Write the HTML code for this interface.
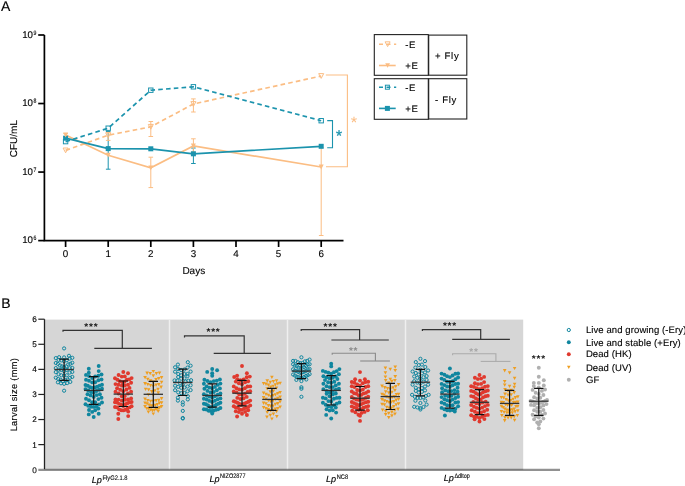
<!DOCTYPE html>
<html><head><meta charset="utf-8"><style>
html,body{margin:0;padding:0;background:#fff;}
svg{display:block;will-change:transform;text-rendering:geometricPrecision;font-family:"Liberation Sans", sans-serif;}
text:not([fill]){stroke:#000;stroke-width:0.12px;}
</style></head><body>
<svg width="685" height="486" viewBox="0 0 685 486" fill="#000">
<rect width="685" height="486" fill="#fff"/>
<text x="1" y="10.8" font-size="14" >A</text>
<path d="M44.4 35.0 V240.6 H343.5" stroke="#000" stroke-width="1.7" fill="none"/>
<path d="M38.2 35.00 H44.4" stroke="#000" stroke-width="1.7"/>
<text x="32.6" y="37.50" font-size="9.7" text-anchor="end" letter-spacing="-0.2">10</text>
<text x="33.4" y="34.70" font-size="6.4" textLength="2.9" lengthAdjust="spacingAndGlyphs" stroke="#000" stroke-width="0.15">9</text>
<path d="M38.2 103.53 H44.4" stroke="#000" stroke-width="1.7"/>
<text x="32.6" y="106.03" font-size="9.7" text-anchor="end" letter-spacing="-0.2">10</text>
<text x="33.4" y="103.23" font-size="6.4" textLength="2.9" lengthAdjust="spacingAndGlyphs" stroke="#000" stroke-width="0.15">8</text>
<path d="M38.2 172.07 H44.4" stroke="#000" stroke-width="1.7"/>
<text x="32.6" y="174.57" font-size="9.7" text-anchor="end" letter-spacing="-0.2">10</text>
<text x="33.4" y="171.77" font-size="6.4" textLength="2.9" lengthAdjust="spacingAndGlyphs" stroke="#000" stroke-width="0.15">7</text>
<path d="M38.2 240.60 H44.4" stroke="#000" stroke-width="1.7"/>
<text x="32.6" y="243.10" font-size="9.7" text-anchor="end" letter-spacing="-0.2">10</text>
<text x="33.4" y="240.30" font-size="6.4" textLength="2.9" lengthAdjust="spacingAndGlyphs" stroke="#000" stroke-width="0.15">6</text>
<path d="M65.60 240.6 V247" stroke="#000" stroke-width="1.7"/>
<text x="65.60" y="257.4" font-size="9.8" text-anchor="middle">0</text>
<path d="M108.20 240.6 V247" stroke="#000" stroke-width="1.7"/>
<text x="108.20" y="257.4" font-size="9.8" text-anchor="middle">1</text>
<path d="M150.80 240.6 V247" stroke="#000" stroke-width="1.7"/>
<text x="150.80" y="257.4" font-size="9.8" text-anchor="middle">2</text>
<path d="M193.40 240.6 V247" stroke="#000" stroke-width="1.7"/>
<text x="193.40" y="257.4" font-size="9.8" text-anchor="middle">3</text>
<path d="M236.00 240.6 V247" stroke="#000" stroke-width="1.7"/>
<text x="236.00" y="257.4" font-size="9.8" text-anchor="middle">4</text>
<path d="M278.60 240.6 V247" stroke="#000" stroke-width="1.7"/>
<text x="278.60" y="257.4" font-size="9.8" text-anchor="middle">5</text>
<path d="M321.20 240.6 V247" stroke="#000" stroke-width="1.7"/>
<text x="321.20" y="257.4" font-size="9.8" text-anchor="middle">6</text>
<text x="193.8" y="274.2" font-size="10" text-anchor="middle">Days</text>
<text transform="translate(16.6,138.6) rotate(-90)" font-size="10" text-anchor="middle">CFU/mL</text>
<path d="M108.20 131.50 V169.20" stroke="#1b93ad" stroke-width="1.0"/><path d="M105.90 131.50 H110.50 M105.90 169.20 H110.50" stroke="#1b93ad" stroke-width="1.0"/>
<path d="M193.40 148.00 V163.50" stroke="#1b93ad" stroke-width="1.0"/><path d="M191.10 148.00 H195.70 M191.10 163.50 H195.70" stroke="#1b93ad" stroke-width="1.0"/>
<path d="M150.80 121.50 V136.50" stroke="#fbbd83" stroke-width="1.0"/><path d="M148.50 121.50 H153.10 M148.50 136.50 H153.10" stroke="#fbbd83" stroke-width="1.0"/>
<path d="M193.40 98.90 V112.00" stroke="#fbbd83" stroke-width="1.0"/><path d="M191.10 98.90 H195.70 M191.10 112.00 H195.70" stroke="#fbbd83" stroke-width="1.0"/>
<path d="M108.20 132.40 V140.40" stroke="#fbbd83" stroke-width="1.0"/><path d="M105.90 132.40 H110.50 M105.90 140.40 H110.50" stroke="#fbbd83" stroke-width="1.0"/>
<path d="M150.80 157.20 V187.60" stroke="#fbbd83" stroke-width="1.0"/><path d="M148.50 157.20 H153.10 M148.50 187.60 H153.10" stroke="#fbbd83" stroke-width="1.0"/>
<path d="M193.40 138.80 V152.00" stroke="#fbbd83" stroke-width="1.0"/><path d="M191.10 138.80 H195.70 M191.10 152.00 H195.70" stroke="#fbbd83" stroke-width="1.0"/>
<path d="M65.60 133.60 V137.00" stroke="#fbbd83" stroke-width="1.0"/><path d="M63.30 133.60 H67.90 M63.30 137.00 H67.90" stroke="#fbbd83" stroke-width="1.0"/>
<path d="M321.20 147.50 V235.50" stroke="#fbbd83" stroke-width="1.0"/><path d="M318.90 147.50 H323.50 M318.90 235.50 H323.50" stroke="#fbbd83" stroke-width="1.0"/>
<polyline points="65.60,135.00 108.20,155.20 150.80,167.80 193.40,146.00 321.20,167.00" fill="none" stroke="#fbbd83" stroke-width="1.7"/>
<polyline points="65.60,150.40 108.20,135.20 150.80,126.80 193.40,104.00 321.20,76.00" fill="none" stroke="#fbbd83" stroke-width="1.7" stroke-dasharray="4.6 3.2"/>
<polyline points="65.60,138.20 108.20,148.60 150.80,148.80 193.40,153.80 321.20,146.30" fill="none" stroke="#1b93ad" stroke-width="1.7"/>
<polyline points="65.60,141.60 108.20,128.20 150.80,90.20 193.40,86.80 321.20,120.70" fill="none" stroke="#1b93ad" stroke-width="1.7" stroke-dasharray="4.6 3.2"/>
<polygon points="63.10,148.03 68.10,148.03 65.60,152.78" fill="none" stroke="#fbbd83" stroke-width="1"/>
<polygon points="105.70,132.82 110.70,132.82 108.20,137.57" fill="none" stroke="#fbbd83" stroke-width="1"/>
<polygon points="148.30,124.42 153.30,124.42 150.80,129.18" fill="none" stroke="#fbbd83" stroke-width="1"/>
<polygon points="190.90,101.62 195.90,101.62 193.40,106.38" fill="none" stroke="#fbbd83" stroke-width="1"/>
<polygon points="318.70,73.62 323.70,73.62 321.20,78.38" fill="none" stroke="#fbbd83" stroke-width="1"/>
<rect x="63.40" y="139.40" width="4.4" height="4.4" fill="none" stroke="#1b93ad" stroke-width="1"/>
<rect x="106.00" y="126.00" width="4.4" height="4.4" fill="none" stroke="#1b93ad" stroke-width="1"/>
<rect x="148.60" y="88.00" width="4.4" height="4.4" fill="none" stroke="#1b93ad" stroke-width="1"/>
<rect x="191.20" y="84.60" width="4.4" height="4.4" fill="none" stroke="#1b93ad" stroke-width="1"/>
<rect x="319.00" y="118.50" width="4.4" height="4.4" fill="none" stroke="#1b93ad" stroke-width="1"/>
<rect x="63.10" y="135.70" width="5.0" height="5.0" fill="#1b93ad"/>
<rect x="105.70" y="146.10" width="5.0" height="5.0" fill="#1b93ad"/>
<rect x="148.30" y="146.30" width="5.0" height="5.0" fill="#1b93ad"/>
<rect x="190.90" y="151.30" width="5.0" height="5.0" fill="#1b93ad"/>
<rect x="318.70" y="143.80" width="5.0" height="5.0" fill="#1b93ad"/>
<polygon points="63.10,132.62 68.10,132.62 65.60,137.38" fill="#fbbd83"/>
<polygon points="105.70,152.82 110.70,152.82 108.20,157.57" fill="#fbbd83"/>
<polygon points="148.30,165.43 153.30,165.43 150.80,170.18" fill="#fbbd83"/>
<polygon points="190.90,143.62 195.90,143.62 193.40,148.38" fill="#fbbd83"/>
<polygon points="318.70,164.62 323.70,164.62 321.20,169.38" fill="#fbbd83"/>
<path d="M325.8 75 H347.4 V166.8 H326" fill="none" stroke="#fbbd83" stroke-width="1.1"/>
<path d="M327.2 120.6 H332.5 V147.8 H327.2" fill="none" stroke="#1b93ad" stroke-width="1.1"/>
<text x="354.0" y="128.1" font-size="16.5" text-anchor="middle" fill="#fbbd83">*</text>
<text x="339.1" y="141.2" font-size="15.5" text-anchor="middle" fill="#1b93ad" stroke="#1b93ad" stroke-width="0.3">*</text>
<g fill="none" stroke="#222" stroke-width="1.1">
<rect x="374.3" y="34.6" width="54" height="40.7"/>
<rect x="428.7" y="35.1" width="38.1" height="40.1"/>
<rect x="374.3" y="78.7" width="54" height="40.6"/>
<rect x="428.7" y="78.7" width="38.1" height="40.3"/>
</g>
<polygon points="385.10,41.83 390.10,41.83 387.60,46.58" fill="none" stroke="#fbbd83" stroke-width="1"/>
<path d="M379 44.3 H396.2" stroke="#fbbd83" stroke-width="1.6" stroke-dasharray="4 3.5"/>
<path d="M379 65.5 H395.7" stroke="#fbbd83" stroke-width="1.6"/>
<polygon points="385.20,63.22 390.00,63.22 387.60,67.78" fill="#fbbd83"/>
<rect x="385.40" y="85.20" width="4.0" height="4.0" fill="none" stroke="#1b93ad" stroke-width="1"/>
<path d="M379 87.2 H396.2" stroke="#1b93ad" stroke-width="1.6" stroke-dasharray="4 3.5"/>
<path d="M379 108.4 H395.7" stroke="#1b93ad" stroke-width="1.6"/>
<rect x="384.90" y="105.90" width="5.0" height="5.0" fill="#1b93ad"/>
<text x="405.2" y="47.9" font-size="9.6" letter-spacing="0.7">-E</text>
<text x="405.2" y="69.2" font-size="9.6" letter-spacing="0.7">+E</text>
<text x="405.2" y="91.0" font-size="9.6" letter-spacing="0.7">-E</text>
<text x="405.2" y="112.1" font-size="9.6" letter-spacing="0.7">+E</text>
<text x="434.9" y="59.0" font-size="9.6" letter-spacing="0.7">+ Fly</text>
<text x="434.9" y="103.4" font-size="9.6" letter-spacing="0.7">- Fly</text>
<text x="1.2" y="308.3" font-size="14">B</text>
<rect x="45" y="319.6" width="478.2" height="150.3" fill="#d6d6d6"/>
<rect x="168.75" y="319.6" width="1.5" height="150" fill="#efefef"/>
<rect x="286.75" y="319.6" width="1.5" height="150" fill="#efefef"/>
<rect x="404.75" y="319.6" width="1.5" height="150" fill="#efefef"/>
<path d="M44.5 319.2 V469.2" stroke="#222" stroke-width="1.3" fill="none"/>
<path d="M38.3 469.9 H560" stroke="#000" stroke-opacity="0.43" stroke-width="2.1"/>
<text x="36.7" y="472.60" font-size="8.2" text-anchor="end">0</text>
<path d="M38.3 444.62 H44.5" stroke="#222" stroke-width="1.2"/>
<text x="36.7" y="447.52" font-size="8.2" text-anchor="end">1</text>
<path d="M38.3 419.53 H44.5" stroke="#222" stroke-width="1.2"/>
<text x="36.7" y="422.43" font-size="8.2" text-anchor="end">2</text>
<path d="M38.3 394.45 H44.5" stroke="#222" stroke-width="1.2"/>
<text x="36.7" y="397.35" font-size="8.2" text-anchor="end">3</text>
<path d="M38.3 369.37 H44.5" stroke="#222" stroke-width="1.2"/>
<text x="36.7" y="372.27" font-size="8.2" text-anchor="end">4</text>
<path d="M38.3 344.28 H44.5" stroke="#222" stroke-width="1.2"/>
<text x="36.7" y="347.18" font-size="8.2" text-anchor="end">5</text>
<path d="M38.3 319.20 H44.5" stroke="#222" stroke-width="1.2"/>
<text x="36.7" y="322.10" font-size="8.2" text-anchor="end">6</text>
<text transform="translate(17.3,394.6) rotate(-90)" font-size="9.3" letter-spacing="0.3" text-anchor="middle">Larval size (mm)</text>
<text x="91.8" y="483.1" font-size="9.1"><tspan font-style="italic">Lp</tspan></text>
<text x="102.5" y="479.5" font-size="6.6" textLength="25" lengthAdjust="spacingAndGlyphs" stroke="#000" stroke-width="0.18">FlyG2.1.8</text>
<text x="209.4" y="481.8" font-size="9.1"><tspan font-style="italic">Lp</tspan></text>
<text x="220.1" y="478.2" font-size="6.6" textLength="25.4" lengthAdjust="spacingAndGlyphs" stroke="#000" stroke-width="0.18">NIZO2877</text>
<text x="326.0" y="482.2" font-size="9.1"><tspan font-style="italic">Lp</tspan></text>
<text x="336.7" y="478.59999999999997" font-size="6.6" textLength="11.4" lengthAdjust="spacingAndGlyphs" stroke="#000" stroke-width="0.18">NC8</text>
<text x="443.8" y="481.3" font-size="9.1"><tspan font-style="italic">Lp</tspan></text>
<text x="454.5" y="477.7" font-size="6.6" textLength="15.3" lengthAdjust="spacingAndGlyphs" stroke="#000" stroke-width="0.18">Δdltop</text>
<circle cx="64.1" cy="348.4" r="1.6" fill="none" stroke="#10869f" stroke-width="1"/><circle cx="64.1" cy="357.4" r="1.6" fill="none" stroke="#10869f" stroke-width="1"/><circle cx="59.1" cy="357.2" r="1.6" fill="none" stroke="#10869f" stroke-width="1"/><circle cx="69.0" cy="355.8" r="1.6" fill="none" stroke="#10869f" stroke-width="1"/><circle cx="64.1" cy="361.3" r="1.6" fill="none" stroke="#10869f" stroke-width="1"/><circle cx="61.3" cy="360.4" r="1.6" fill="none" stroke="#10869f" stroke-width="1"/><circle cx="66.8" cy="360.2" r="1.6" fill="none" stroke="#10869f" stroke-width="1"/><circle cx="58.6" cy="359.9" r="1.6" fill="none" stroke="#10869f" stroke-width="1"/><circle cx="69.6" cy="358.6" r="1.6" fill="none" stroke="#10869f" stroke-width="1"/><circle cx="55.8" cy="358.1" r="1.6" fill="none" stroke="#10869f" stroke-width="1"/><circle cx="72.3" cy="357.8" r="1.6" fill="none" stroke="#10869f" stroke-width="1"/><circle cx="64.1" cy="367.1" r="1.6" fill="none" stroke="#10869f" stroke-width="1"/><circle cx="62.0" cy="366.4" r="1.6" fill="none" stroke="#10869f" stroke-width="1"/><circle cx="66.2" cy="366.4" r="1.6" fill="none" stroke="#10869f" stroke-width="1"/><circle cx="60.0" cy="365.5" r="1.6" fill="none" stroke="#10869f" stroke-width="1"/><circle cx="68.2" cy="364.4" r="1.6" fill="none" stroke="#10869f" stroke-width="1"/><circle cx="57.9" cy="363.9" r="1.6" fill="none" stroke="#10869f" stroke-width="1"/><circle cx="70.3" cy="363.8" r="1.6" fill="none" stroke="#10869f" stroke-width="1"/><circle cx="55.8" cy="363.0" r="1.6" fill="none" stroke="#10869f" stroke-width="1"/><circle cx="72.3" cy="362.7" r="1.6" fill="none" stroke="#10869f" stroke-width="1"/><circle cx="64.1" cy="371.1" r="1.6" fill="none" stroke="#10869f" stroke-width="1"/><circle cx="61.3" cy="369.9" r="1.6" fill="none" stroke="#10869f" stroke-width="1"/><circle cx="66.8" cy="369.9" r="1.6" fill="none" stroke="#10869f" stroke-width="1"/><circle cx="58.6" cy="369.8" r="1.6" fill="none" stroke="#10869f" stroke-width="1"/><circle cx="69.6" cy="368.2" r="1.6" fill="none" stroke="#10869f" stroke-width="1"/><circle cx="55.8" cy="368.1" r="1.6" fill="none" stroke="#10869f" stroke-width="1"/><circle cx="72.3" cy="367.9" r="1.6" fill="none" stroke="#10869f" stroke-width="1"/><circle cx="64.1" cy="375.6" r="1.6" fill="none" stroke="#10869f" stroke-width="1"/><circle cx="61.3" cy="375.3" r="1.6" fill="none" stroke="#10869f" stroke-width="1"/><circle cx="66.8" cy="375.3" r="1.6" fill="none" stroke="#10869f" stroke-width="1"/><circle cx="58.6" cy="374.2" r="1.6" fill="none" stroke="#10869f" stroke-width="1"/><circle cx="69.6" cy="372.6" r="1.6" fill="none" stroke="#10869f" stroke-width="1"/><circle cx="55.8" cy="372.1" r="1.6" fill="none" stroke="#10869f" stroke-width="1"/><circle cx="72.3" cy="371.9" r="1.6" fill="none" stroke="#10869f" stroke-width="1"/><circle cx="62.9" cy="381.3" r="1.6" fill="none" stroke="#10869f" stroke-width="1"/><circle cx="65.3" cy="380.0" r="1.6" fill="none" stroke="#10869f" stroke-width="1"/><circle cx="60.6" cy="379.8" r="1.6" fill="none" stroke="#10869f" stroke-width="1"/><circle cx="67.6" cy="379.7" r="1.6" fill="none" stroke="#10869f" stroke-width="1"/><circle cx="58.2" cy="378.9" r="1.6" fill="none" stroke="#10869f" stroke-width="1"/><circle cx="70.0" cy="377.8" r="1.6" fill="none" stroke="#10869f" stroke-width="1"/><circle cx="55.8" cy="377.7" r="1.6" fill="none" stroke="#10869f" stroke-width="1"/><circle cx="72.3" cy="376.9" r="1.6" fill="none" stroke="#10869f" stroke-width="1"/><circle cx="64.1" cy="383.8" r="1.6" fill="none" stroke="#10869f" stroke-width="1"/><circle cx="61.0" cy="383.3" r="1.6" fill="none" stroke="#10869f" stroke-width="1"/><circle cx="67.2" cy="383.1" r="1.6" fill="none" stroke="#10869f" stroke-width="1"/><circle cx="57.9" cy="382.3" r="1.6" fill="none" stroke="#10869f" stroke-width="1"/><circle cx="70.3" cy="381.9" r="1.6" fill="none" stroke="#10869f" stroke-width="1"/><circle cx="64.1" cy="390.7" r="1.6" fill="none" stroke="#10869f" stroke-width="1"/><circle cx="88.8" cy="368.7" r="1.95" fill="#10869f"/><circle cx="98.7" cy="366.0" r="1.95" fill="#10869f"/><circle cx="88.8" cy="372.7" r="1.95" fill="#10869f"/><circle cx="98.7" cy="371.1" r="1.95" fill="#10869f"/><circle cx="92.2" cy="378.0" r="1.95" fill="#10869f"/><circle cx="95.2" cy="376.5" r="1.95" fill="#10869f"/><circle cx="89.0" cy="376.1" r="1.95" fill="#10869f"/><circle cx="98.4" cy="375.8" r="1.95" fill="#10869f"/><circle cx="86.0" cy="374.9" r="1.95" fill="#10869f"/><circle cx="101.5" cy="374.5" r="1.95" fill="#10869f"/><circle cx="92.2" cy="382.4" r="1.95" fill="#10869f"/><circle cx="95.2" cy="382.2" r="1.95" fill="#10869f"/><circle cx="89.0" cy="380.8" r="1.95" fill="#10869f"/><circle cx="98.4" cy="380.2" r="1.95" fill="#10869f"/><circle cx="86.0" cy="379.7" r="1.95" fill="#10869f"/><circle cx="101.5" cy="379.5" r="1.95" fill="#10869f"/><circle cx="92.5" cy="387.9" r="1.95" fill="#10869f"/><circle cx="94.9" cy="387.4" r="1.95" fill="#10869f"/><circle cx="90.2" cy="387.3" r="1.95" fill="#10869f"/><circle cx="97.2" cy="386.7" r="1.95" fill="#10869f"/><circle cx="87.8" cy="385.7" r="1.95" fill="#10869f"/><circle cx="99.6" cy="385.6" r="1.95" fill="#10869f"/><circle cx="85.5" cy="385.0" r="1.95" fill="#10869f"/><circle cx="102.0" cy="384.8" r="1.95" fill="#10869f"/><circle cx="93.7" cy="392.7" r="1.95" fill="#10869f"/><circle cx="91.0" cy="392.1" r="1.95" fill="#10869f"/><circle cx="96.5" cy="391.0" r="1.95" fill="#10869f"/><circle cx="88.2" cy="390.5" r="1.95" fill="#10869f"/><circle cx="99.2" cy="389.7" r="1.95" fill="#10869f"/><circle cx="85.5" cy="389.1" r="1.95" fill="#10869f"/><circle cx="102.0" cy="388.7" r="1.95" fill="#10869f"/><circle cx="93.7" cy="396.9" r="1.95" fill="#10869f"/><circle cx="90.6" cy="395.4" r="1.95" fill="#10869f"/><circle cx="96.8" cy="395.1" r="1.95" fill="#10869f"/><circle cx="87.5" cy="394.3" r="1.95" fill="#10869f"/><circle cx="99.9" cy="394.2" r="1.95" fill="#10869f"/><circle cx="92.2" cy="402.2" r="1.95" fill="#10869f"/><circle cx="95.2" cy="402.2" r="1.95" fill="#10869f"/><circle cx="89.0" cy="400.3" r="1.95" fill="#10869f"/><circle cx="98.4" cy="399.1" r="1.95" fill="#10869f"/><circle cx="86.0" cy="398.7" r="1.95" fill="#10869f"/><circle cx="101.5" cy="397.7" r="1.95" fill="#10869f"/><circle cx="93.7" cy="406.9" r="1.95" fill="#10869f"/><circle cx="91.0" cy="406.8" r="1.95" fill="#10869f"/><circle cx="96.5" cy="406.6" r="1.95" fill="#10869f"/><circle cx="88.2" cy="405.7" r="1.95" fill="#10869f"/><circle cx="99.2" cy="404.4" r="1.95" fill="#10869f"/><circle cx="85.5" cy="404.2" r="1.95" fill="#10869f"/><circle cx="102.0" cy="402.5" r="1.95" fill="#10869f"/><circle cx="92.2" cy="411.9" r="1.95" fill="#10869f"/><circle cx="95.2" cy="410.3" r="1.95" fill="#10869f"/><circle cx="89.0" cy="410.0" r="1.95" fill="#10869f"/><circle cx="98.4" cy="408.6" r="1.95" fill="#10869f"/><circle cx="88.8" cy="414.4" r="1.95" fill="#10869f"/><circle cx="98.7" cy="413.8" r="1.95" fill="#10869f"/><circle cx="93.7" cy="417.0" r="1.95" fill="#10869f"/><circle cx="123.3" cy="372.0" r="1.95" fill="#e0392e"/><circle cx="121.8" cy="376.6" r="1.95" fill="#e0392e"/><circle cx="124.8" cy="376.4" r="1.95" fill="#e0392e"/><circle cx="118.6" cy="375.0" r="1.95" fill="#e0392e"/><circle cx="128.0" cy="373.3" r="1.95" fill="#e0392e"/><circle cx="122.1" cy="382.1" r="1.95" fill="#e0392e"/><circle cx="124.5" cy="381.8" r="1.95" fill="#e0392e"/><circle cx="119.8" cy="381.2" r="1.95" fill="#e0392e"/><circle cx="126.8" cy="379.8" r="1.95" fill="#e0392e"/><circle cx="117.4" cy="379.8" r="1.95" fill="#e0392e"/><circle cx="129.2" cy="379.4" r="1.95" fill="#e0392e"/><circle cx="115.0" cy="378.2" r="1.95" fill="#e0392e"/><circle cx="131.6" cy="378.1" r="1.95" fill="#e0392e"/><circle cx="121.8" cy="385.6" r="1.95" fill="#e0392e"/><circle cx="124.8" cy="385.5" r="1.95" fill="#e0392e"/><circle cx="118.6" cy="384.8" r="1.95" fill="#e0392e"/><circle cx="128.0" cy="384.8" r="1.95" fill="#e0392e"/><circle cx="115.5" cy="384.1" r="1.95" fill="#e0392e"/><circle cx="131.1" cy="382.8" r="1.95" fill="#e0392e"/><circle cx="123.3" cy="391.3" r="1.95" fill="#e0392e"/><circle cx="120.2" cy="389.7" r="1.95" fill="#e0392e"/><circle cx="126.4" cy="389.5" r="1.95" fill="#e0392e"/><circle cx="117.1" cy="388.3" r="1.95" fill="#e0392e"/><circle cx="129.5" cy="387.9" r="1.95" fill="#e0392e"/><circle cx="121.8" cy="396.3" r="1.95" fill="#e0392e"/><circle cx="124.8" cy="396.1" r="1.95" fill="#e0392e"/><circle cx="118.6" cy="393.5" r="1.95" fill="#e0392e"/><circle cx="128.0" cy="393.5" r="1.95" fill="#e0392e"/><circle cx="115.5" cy="391.8" r="1.95" fill="#e0392e"/><circle cx="131.1" cy="391.8" r="1.95" fill="#e0392e"/><circle cx="121.8" cy="400.6" r="1.95" fill="#e0392e"/><circle cx="124.8" cy="399.8" r="1.95" fill="#e0392e"/><circle cx="118.6" cy="399.6" r="1.95" fill="#e0392e"/><circle cx="128.0" cy="399.4" r="1.95" fill="#e0392e"/><circle cx="115.5" cy="399.4" r="1.95" fill="#e0392e"/><circle cx="131.1" cy="398.4" r="1.95" fill="#e0392e"/><circle cx="123.3" cy="406.1" r="1.95" fill="#e0392e"/><circle cx="121.2" cy="404.7" r="1.95" fill="#e0392e"/><circle cx="125.4" cy="404.3" r="1.95" fill="#e0392e"/><circle cx="119.2" cy="403.9" r="1.95" fill="#e0392e"/><circle cx="127.4" cy="403.2" r="1.95" fill="#e0392e"/><circle cx="117.1" cy="402.5" r="1.95" fill="#e0392e"/><circle cx="129.5" cy="402.3" r="1.95" fill="#e0392e"/><circle cx="115.0" cy="402.2" r="1.95" fill="#e0392e"/><circle cx="131.6" cy="402.0" r="1.95" fill="#e0392e"/><circle cx="123.3" cy="410.4" r="1.95" fill="#e0392e"/><circle cx="121.2" cy="410.3" r="1.95" fill="#e0392e"/><circle cx="125.4" cy="409.7" r="1.95" fill="#e0392e"/><circle cx="119.2" cy="409.4" r="1.95" fill="#e0392e"/><circle cx="127.4" cy="408.6" r="1.95" fill="#e0392e"/><circle cx="117.1" cy="407.4" r="1.95" fill="#e0392e"/><circle cx="129.5" cy="407.4" r="1.95" fill="#e0392e"/><circle cx="115.0" cy="407.0" r="1.95" fill="#e0392e"/><circle cx="131.6" cy="406.3" r="1.95" fill="#e0392e"/><circle cx="118.3" cy="413.7" r="1.95" fill="#e0392e"/><circle cx="128.2" cy="411.6" r="1.95" fill="#e0392e"/><circle cx="118.3" cy="419.0" r="1.95" fill="#e0392e"/><circle cx="128.2" cy="416.1" r="1.95" fill="#e0392e"/><polygon points="151.5,369.9 155.1,369.9 153.3,373.1" fill="#ee9e21"/><polygon points="151.5,374.2 155.1,374.2 153.3,377.5" fill="#ee9e21"/><polygon points="148.4,371.9 152.0,371.9 150.2,375.2" fill="#ee9e21"/><polygon points="154.6,371.9 158.2,371.9 156.4,375.2" fill="#ee9e21"/><polygon points="145.3,371.6 148.9,371.6 147.1,374.9" fill="#ee9e21"/><polygon points="157.7,371.4 161.3,371.4 159.5,374.7" fill="#ee9e21"/><polygon points="151.5,380.6 155.1,380.6 153.3,383.9" fill="#ee9e21"/><polygon points="148.8,379.3 152.4,379.3 150.6,382.6" fill="#ee9e21"/><polygon points="154.2,378.1 157.9,378.1 156.1,381.4" fill="#ee9e21"/><polygon points="146.0,377.8 149.6,377.8 147.8,381.1" fill="#ee9e21"/><polygon points="157.0,377.0 160.6,377.0 158.8,380.3" fill="#ee9e21"/><polygon points="143.2,376.0 146.9,376.0 145.1,379.3" fill="#ee9e21"/><polygon points="159.8,375.9 163.4,375.9 161.6,379.2" fill="#ee9e21"/><polygon points="151.5,384.7 155.1,384.7 153.3,388.0" fill="#ee9e21"/><polygon points="148.8,384.0 152.4,384.0 150.6,387.3" fill="#ee9e21"/><polygon points="154.2,383.4 157.9,383.4 156.1,386.7" fill="#ee9e21"/><polygon points="146.0,383.0 149.6,383.0 147.8,386.3" fill="#ee9e21"/><polygon points="157.0,383.0 160.6,383.0 158.8,386.3" fill="#ee9e21"/><polygon points="143.2,382.1 146.9,382.1 145.1,385.4" fill="#ee9e21"/><polygon points="159.8,380.8 163.4,380.8 161.6,384.1" fill="#ee9e21"/><polygon points="149.9,390.1 153.6,390.1 151.8,393.4" fill="#ee9e21"/><polygon points="153.1,389.3 156.7,389.3 154.9,392.6" fill="#ee9e21"/><polygon points="146.8,388.2 150.5,388.2 148.7,391.5" fill="#ee9e21"/><polygon points="156.2,387.8 159.8,387.8 158.0,391.1" fill="#ee9e21"/><polygon points="143.8,387.7 147.4,387.7 145.6,391.0" fill="#ee9e21"/><polygon points="159.2,385.6 162.9,385.6 161.1,388.9" fill="#ee9e21"/><polygon points="151.5,393.8 155.1,393.8 153.3,397.1" fill="#ee9e21"/><polygon points="146.6,393.3 150.2,393.3 148.4,396.6" fill="#ee9e21"/><polygon points="156.4,391.2 160.1,391.2 158.2,394.5" fill="#ee9e21"/><polygon points="151.5,399.8 155.1,399.8 153.3,403.1" fill="#ee9e21"/><polygon points="148.8,399.7 152.4,399.7 150.6,403.0" fill="#ee9e21"/><polygon points="154.2,398.9 157.9,398.9 156.1,402.2" fill="#ee9e21"/><polygon points="146.0,398.9 149.6,398.9 147.8,402.2" fill="#ee9e21"/><polygon points="157.0,398.8 160.6,398.8 158.8,402.1" fill="#ee9e21"/><polygon points="143.2,397.6 146.9,397.6 145.1,400.9" fill="#ee9e21"/><polygon points="159.8,397.0 163.4,397.0 161.6,400.3" fill="#ee9e21"/><polygon points="151.5,404.5 155.1,404.5 153.3,407.8" fill="#ee9e21"/><polygon points="149.4,404.3 153.0,404.3 151.2,407.6" fill="#ee9e21"/><polygon points="153.6,403.8 157.2,403.8 155.4,407.1" fill="#ee9e21"/><polygon points="147.4,403.6 151.0,403.6 149.2,406.9" fill="#ee9e21"/><polygon points="155.6,402.9 159.2,402.9 157.4,406.2" fill="#ee9e21"/><polygon points="145.3,402.2 148.9,402.2 147.1,405.5" fill="#ee9e21"/><polygon points="157.7,401.5 161.3,401.5 159.5,404.8" fill="#ee9e21"/><polygon points="143.2,401.4 146.9,401.4 145.1,404.7" fill="#ee9e21"/><polygon points="159.8,401.2 163.4,401.2 161.6,404.5" fill="#ee9e21"/><polygon points="150.6,409.1 154.2,409.1 152.4,412.4" fill="#ee9e21"/><polygon points="152.4,408.8 156.0,408.8 154.2,412.1" fill="#ee9e21"/><polygon points="148.8,408.2 152.4,408.2 150.6,411.5" fill="#ee9e21"/><polygon points="154.2,407.8 157.9,407.8 156.1,411.1" fill="#ee9e21"/><polygon points="146.9,407.2 150.5,407.2 148.7,410.5" fill="#ee9e21"/><polygon points="156.1,407.1 159.7,407.1 157.9,410.4" fill="#ee9e21"/><polygon points="145.1,407.0 148.7,407.0 146.9,410.3" fill="#ee9e21"/><polygon points="157.9,406.1 161.5,406.1 159.7,409.4" fill="#ee9e21"/><polygon points="143.2,405.1 146.9,405.1 145.1,408.4" fill="#ee9e21"/><polygon points="159.8,405.0 163.4,405.0 161.6,408.3" fill="#ee9e21"/><polygon points="151.5,412.4 155.1,412.4 153.3,415.6" fill="#ee9e21"/><polygon points="146.6,410.5 150.2,410.5 148.4,413.8" fill="#ee9e21"/><polygon points="156.4,409.7 160.1,409.7 158.2,413.0" fill="#ee9e21"/><circle cx="177.9" cy="364.6" r="1.6" fill="none" stroke="#10869f" stroke-width="1"/><circle cx="187.8" cy="362.2" r="1.6" fill="none" stroke="#10869f" stroke-width="1"/><circle cx="181.2" cy="370.0" r="1.6" fill="none" stroke="#10869f" stroke-width="1"/><circle cx="184.4" cy="369.5" r="1.6" fill="none" stroke="#10869f" stroke-width="1"/><circle cx="178.2" cy="369.0" r="1.6" fill="none" stroke="#10869f" stroke-width="1"/><circle cx="187.5" cy="367.6" r="1.6" fill="none" stroke="#10869f" stroke-width="1"/><circle cx="175.1" cy="367.3" r="1.6" fill="none" stroke="#10869f" stroke-width="1"/><circle cx="190.6" cy="365.7" r="1.6" fill="none" stroke="#10869f" stroke-width="1"/><circle cx="181.2" cy="375.3" r="1.6" fill="none" stroke="#10869f" stroke-width="1"/><circle cx="184.4" cy="374.0" r="1.6" fill="none" stroke="#10869f" stroke-width="1"/><circle cx="178.2" cy="374.0" r="1.6" fill="none" stroke="#10869f" stroke-width="1"/><circle cx="187.5" cy="374.0" r="1.6" fill="none" stroke="#10869f" stroke-width="1"/><circle cx="175.1" cy="371.7" r="1.6" fill="none" stroke="#10869f" stroke-width="1"/><circle cx="190.6" cy="371.6" r="1.6" fill="none" stroke="#10869f" stroke-width="1"/><circle cx="181.2" cy="378.7" r="1.6" fill="none" stroke="#10869f" stroke-width="1"/><circle cx="184.4" cy="378.4" r="1.6" fill="none" stroke="#10869f" stroke-width="1"/><circle cx="178.2" cy="377.0" r="1.6" fill="none" stroke="#10869f" stroke-width="1"/><circle cx="187.5" cy="376.1" r="1.6" fill="none" stroke="#10869f" stroke-width="1"/><circle cx="182.8" cy="384.5" r="1.6" fill="none" stroke="#10869f" stroke-width="1"/><circle cx="180.1" cy="383.4" r="1.6" fill="none" stroke="#10869f" stroke-width="1"/><circle cx="185.6" cy="381.5" r="1.6" fill="none" stroke="#10869f" stroke-width="1"/><circle cx="177.3" cy="380.7" r="1.6" fill="none" stroke="#10869f" stroke-width="1"/><circle cx="188.3" cy="380.7" r="1.6" fill="none" stroke="#10869f" stroke-width="1"/><circle cx="174.6" cy="380.4" r="1.6" fill="none" stroke="#10869f" stroke-width="1"/><circle cx="191.1" cy="380.2" r="1.6" fill="none" stroke="#10869f" stroke-width="1"/><circle cx="181.2" cy="387.8" r="1.6" fill="none" stroke="#10869f" stroke-width="1"/><circle cx="184.4" cy="387.5" r="1.6" fill="none" stroke="#10869f" stroke-width="1"/><circle cx="178.2" cy="386.8" r="1.6" fill="none" stroke="#10869f" stroke-width="1"/><circle cx="187.5" cy="386.5" r="1.6" fill="none" stroke="#10869f" stroke-width="1"/><circle cx="175.1" cy="385.7" r="1.6" fill="none" stroke="#10869f" stroke-width="1"/><circle cx="190.6" cy="385.3" r="1.6" fill="none" stroke="#10869f" stroke-width="1"/><circle cx="181.2" cy="393.2" r="1.6" fill="none" stroke="#10869f" stroke-width="1"/><circle cx="184.4" cy="393.0" r="1.6" fill="none" stroke="#10869f" stroke-width="1"/><circle cx="178.2" cy="392.4" r="1.6" fill="none" stroke="#10869f" stroke-width="1"/><circle cx="187.5" cy="391.3" r="1.6" fill="none" stroke="#10869f" stroke-width="1"/><circle cx="175.1" cy="390.2" r="1.6" fill="none" stroke="#10869f" stroke-width="1"/><circle cx="190.6" cy="390.1" r="1.6" fill="none" stroke="#10869f" stroke-width="1"/><circle cx="177.9" cy="397.7" r="1.6" fill="none" stroke="#10869f" stroke-width="1"/><circle cx="187.8" cy="396.2" r="1.6" fill="none" stroke="#10869f" stroke-width="1"/><circle cx="182.8" cy="402.3" r="1.6" fill="none" stroke="#10869f" stroke-width="1"/><circle cx="177.9" cy="400.6" r="1.6" fill="none" stroke="#10869f" stroke-width="1"/><circle cx="187.8" cy="399.4" r="1.6" fill="none" stroke="#10869f" stroke-width="1"/><circle cx="182.8" cy="404.7" r="1.6" fill="none" stroke="#10869f" stroke-width="1"/><circle cx="182.8" cy="410.9" r="1.6" fill="none" stroke="#10869f" stroke-width="1"/><circle cx="182.8" cy="418.0" r="1.6" fill="none" stroke="#10869f" stroke-width="1"/><circle cx="182.8" cy="418.5" r="1.6" fill="none" stroke="#10869f" stroke-width="1"/><circle cx="212.2" cy="369.0" r="1.95" fill="#10869f"/><circle cx="212.2" cy="373.2" r="1.95" fill="#10869f"/><circle cx="207.2" cy="371.9" r="1.95" fill="#10869f"/><circle cx="217.1" cy="370.2" r="1.95" fill="#10869f"/><circle cx="212.2" cy="375.7" r="1.95" fill="#10869f"/><circle cx="210.6" cy="382.3" r="1.95" fill="#10869f"/><circle cx="213.8" cy="381.1" r="1.95" fill="#10869f"/><circle cx="207.5" cy="381.0" r="1.95" fill="#10869f"/><circle cx="216.8" cy="380.8" r="1.95" fill="#10869f"/><circle cx="204.4" cy="379.7" r="1.95" fill="#10869f"/><circle cx="219.9" cy="379.5" r="1.95" fill="#10869f"/><circle cx="212.2" cy="388.2" r="1.95" fill="#10869f"/><circle cx="209.4" cy="387.6" r="1.95" fill="#10869f"/><circle cx="214.9" cy="386.9" r="1.95" fill="#10869f"/><circle cx="206.7" cy="386.4" r="1.95" fill="#10869f"/><circle cx="217.7" cy="384.9" r="1.95" fill="#10869f"/><circle cx="203.9" cy="383.7" r="1.95" fill="#10869f"/><circle cx="220.4" cy="383.6" r="1.95" fill="#10869f"/><circle cx="210.6" cy="392.5" r="1.95" fill="#10869f"/><circle cx="213.8" cy="392.0" r="1.95" fill="#10869f"/><circle cx="207.5" cy="390.9" r="1.95" fill="#10869f"/><circle cx="216.8" cy="390.2" r="1.95" fill="#10869f"/><circle cx="204.4" cy="388.7" r="1.95" fill="#10869f"/><circle cx="219.9" cy="388.4" r="1.95" fill="#10869f"/><circle cx="212.2" cy="397.4" r="1.95" fill="#10869f"/><circle cx="209.4" cy="396.5" r="1.95" fill="#10869f"/><circle cx="214.9" cy="396.2" r="1.95" fill="#10869f"/><circle cx="206.7" cy="395.5" r="1.95" fill="#10869f"/><circle cx="217.7" cy="394.7" r="1.95" fill="#10869f"/><circle cx="203.9" cy="394.3" r="1.95" fill="#10869f"/><circle cx="220.4" cy="393.4" r="1.95" fill="#10869f"/><circle cx="212.2" cy="402.0" r="1.95" fill="#10869f"/><circle cx="209.4" cy="400.9" r="1.95" fill="#10869f"/><circle cx="214.9" cy="400.8" r="1.95" fill="#10869f"/><circle cx="206.7" cy="399.5" r="1.95" fill="#10869f"/><circle cx="217.7" cy="399.2" r="1.95" fill="#10869f"/><circle cx="203.9" cy="398.8" r="1.95" fill="#10869f"/><circle cx="220.4" cy="398.4" r="1.95" fill="#10869f"/><circle cx="212.2" cy="407.1" r="1.95" fill="#10869f"/><circle cx="210.1" cy="407.0" r="1.95" fill="#10869f"/><circle cx="214.3" cy="405.9" r="1.95" fill="#10869f"/><circle cx="208.1" cy="405.4" r="1.95" fill="#10869f"/><circle cx="216.3" cy="404.7" r="1.95" fill="#10869f"/><circle cx="206.0" cy="404.3" r="1.95" fill="#10869f"/><circle cx="218.4" cy="403.8" r="1.95" fill="#10869f"/><circle cx="203.9" cy="403.7" r="1.95" fill="#10869f"/><circle cx="220.4" cy="402.8" r="1.95" fill="#10869f"/><circle cx="211.0" cy="411.0" r="1.95" fill="#10869f"/><circle cx="213.4" cy="410.8" r="1.95" fill="#10869f"/><circle cx="208.7" cy="410.7" r="1.95" fill="#10869f"/><circle cx="215.7" cy="409.9" r="1.95" fill="#10869f"/><circle cx="206.3" cy="409.5" r="1.95" fill="#10869f"/><circle cx="218.1" cy="409.2" r="1.95" fill="#10869f"/><circle cx="203.9" cy="409.2" r="1.95" fill="#10869f"/><circle cx="220.4" cy="408.0" r="1.95" fill="#10869f"/><circle cx="212.2" cy="413.5" r="1.95" fill="#10869f"/><circle cx="242.0" cy="366.0" r="1.95" fill="#e0392e"/><circle cx="237.1" cy="375.6" r="1.95" fill="#e0392e"/><circle cx="246.9" cy="373.3" r="1.95" fill="#e0392e"/><circle cx="240.4" cy="380.2" r="1.95" fill="#e0392e"/><circle cx="243.6" cy="379.5" r="1.95" fill="#e0392e"/><circle cx="237.3" cy="379.2" r="1.95" fill="#e0392e"/><circle cx="246.7" cy="377.3" r="1.95" fill="#e0392e"/><circle cx="234.2" cy="377.0" r="1.95" fill="#e0392e"/><circle cx="249.8" cy="376.6" r="1.95" fill="#e0392e"/><circle cx="242.0" cy="384.3" r="1.95" fill="#e0392e"/><circle cx="238.9" cy="383.3" r="1.95" fill="#e0392e"/><circle cx="245.1" cy="382.2" r="1.95" fill="#e0392e"/><circle cx="235.8" cy="381.6" r="1.95" fill="#e0392e"/><circle cx="248.2" cy="381.3" r="1.95" fill="#e0392e"/><circle cx="242.0" cy="389.8" r="1.95" fill="#e0392e"/><circle cx="239.2" cy="389.4" r="1.95" fill="#e0392e"/><circle cx="244.8" cy="388.3" r="1.95" fill="#e0392e"/><circle cx="236.5" cy="388.3" r="1.95" fill="#e0392e"/><circle cx="247.5" cy="386.5" r="1.95" fill="#e0392e"/><circle cx="233.8" cy="386.4" r="1.95" fill="#e0392e"/><circle cx="250.2" cy="386.4" r="1.95" fill="#e0392e"/><circle cx="242.0" cy="394.4" r="1.95" fill="#e0392e"/><circle cx="239.2" cy="394.4" r="1.95" fill="#e0392e"/><circle cx="244.8" cy="393.8" r="1.95" fill="#e0392e"/><circle cx="236.5" cy="392.4" r="1.95" fill="#e0392e"/><circle cx="247.5" cy="391.9" r="1.95" fill="#e0392e"/><circle cx="233.8" cy="391.5" r="1.95" fill="#e0392e"/><circle cx="250.2" cy="391.2" r="1.95" fill="#e0392e"/><circle cx="240.4" cy="399.0" r="1.95" fill="#e0392e"/><circle cx="243.6" cy="398.2" r="1.95" fill="#e0392e"/><circle cx="237.3" cy="397.9" r="1.95" fill="#e0392e"/><circle cx="246.7" cy="396.9" r="1.95" fill="#e0392e"/><circle cx="241.1" cy="404.9" r="1.95" fill="#e0392e"/><circle cx="242.9" cy="404.3" r="1.95" fill="#e0392e"/><circle cx="239.2" cy="403.6" r="1.95" fill="#e0392e"/><circle cx="244.8" cy="403.4" r="1.95" fill="#e0392e"/><circle cx="237.4" cy="402.8" r="1.95" fill="#e0392e"/><circle cx="246.6" cy="402.6" r="1.95" fill="#e0392e"/><circle cx="235.6" cy="401.9" r="1.95" fill="#e0392e"/><circle cx="248.4" cy="401.7" r="1.95" fill="#e0392e"/><circle cx="233.8" cy="401.2" r="1.95" fill="#e0392e"/><circle cx="250.2" cy="400.6" r="1.95" fill="#e0392e"/><circle cx="242.0" cy="409.9" r="1.95" fill="#e0392e"/><circle cx="239.9" cy="409.6" r="1.95" fill="#e0392e"/><circle cx="244.1" cy="408.5" r="1.95" fill="#e0392e"/><circle cx="237.9" cy="407.7" r="1.95" fill="#e0392e"/><circle cx="246.1" cy="407.7" r="1.95" fill="#e0392e"/><circle cx="235.8" cy="407.4" r="1.95" fill="#e0392e"/><circle cx="248.2" cy="406.9" r="1.95" fill="#e0392e"/><circle cx="233.8" cy="406.2" r="1.95" fill="#e0392e"/><circle cx="250.2" cy="405.4" r="1.95" fill="#e0392e"/><circle cx="242.0" cy="413.7" r="1.95" fill="#e0392e"/><circle cx="238.9" cy="412.1" r="1.95" fill="#e0392e"/><circle cx="245.1" cy="411.9" r="1.95" fill="#e0392e"/><circle cx="235.8" cy="411.3" r="1.95" fill="#e0392e"/><circle cx="248.2" cy="410.2" r="1.95" fill="#e0392e"/><circle cx="237.1" cy="416.5" r="1.95" fill="#e0392e"/><circle cx="246.9" cy="415.0" r="1.95" fill="#e0392e"/><polygon points="270.1,375.8 273.7,375.8 271.9,379.0" fill="#ee9e21"/><polygon points="268.5,380.7 272.1,380.7 270.3,384.0" fill="#ee9e21"/><polygon points="271.6,380.0 275.2,380.0 273.4,383.3" fill="#ee9e21"/><polygon points="265.4,379.2 269.1,379.2 267.2,382.5" fill="#ee9e21"/><polygon points="274.7,379.2 278.3,379.2 276.5,382.5" fill="#ee9e21"/><polygon points="268.9,385.6 272.5,385.6 270.7,388.9" fill="#ee9e21"/><polygon points="271.3,384.8 274.9,384.8 273.1,388.1" fill="#ee9e21"/><polygon points="266.6,383.6 270.2,383.6 268.4,386.9" fill="#ee9e21"/><polygon points="273.6,383.2 277.2,383.2 275.4,386.5" fill="#ee9e21"/><polygon points="264.2,382.6 267.8,382.6 266.0,385.9" fill="#ee9e21"/><polygon points="276.0,382.3 279.6,382.3 277.8,385.6" fill="#ee9e21"/><polygon points="261.8,382.0 265.4,382.0 263.6,385.3" fill="#ee9e21"/><polygon points="278.3,381.7 281.9,381.7 280.1,385.0" fill="#ee9e21"/><polygon points="268.5,390.3 272.1,390.3 270.3,393.6" fill="#ee9e21"/><polygon points="271.6,389.4 275.2,389.4 273.4,392.7" fill="#ee9e21"/><polygon points="265.4,387.3 269.1,387.3 267.2,390.6" fill="#ee9e21"/><polygon points="274.7,386.5 278.3,386.5 276.5,389.8" fill="#ee9e21"/><polygon points="268.9,395.0 272.5,395.0 270.7,398.3" fill="#ee9e21"/><polygon points="271.3,393.9 274.9,393.9 273.1,397.2" fill="#ee9e21"/><polygon points="266.6,393.8 270.2,393.8 268.4,397.1" fill="#ee9e21"/><polygon points="273.6,393.2 277.2,393.2 275.4,396.5" fill="#ee9e21"/><polygon points="264.2,392.8 267.8,392.8 266.0,396.1" fill="#ee9e21"/><polygon points="276.0,392.0 279.6,392.0 277.8,395.3" fill="#ee9e21"/><polygon points="261.8,391.4 265.4,391.4 263.6,394.7" fill="#ee9e21"/><polygon points="278.3,391.0 281.9,391.0 280.1,394.3" fill="#ee9e21"/><polygon points="268.9,399.9 272.5,399.9 270.7,403.2" fill="#ee9e21"/><polygon points="271.3,399.1 274.9,399.1 273.1,402.4" fill="#ee9e21"/><polygon points="266.6,399.0 270.2,399.0 268.4,402.3" fill="#ee9e21"/><polygon points="273.6,397.8 277.2,397.8 275.4,401.1" fill="#ee9e21"/><polygon points="264.2,397.6 267.8,397.6 266.0,400.9" fill="#ee9e21"/><polygon points="276.0,396.8 279.6,396.8 277.8,400.1" fill="#ee9e21"/><polygon points="261.8,396.1 265.4,396.1 263.6,399.4" fill="#ee9e21"/><polygon points="278.3,395.6 281.9,395.6 280.1,398.9" fill="#ee9e21"/><polygon points="268.9,404.6 272.5,404.6 270.7,407.9" fill="#ee9e21"/><polygon points="271.3,404.5 274.9,404.5 273.1,407.8" fill="#ee9e21"/><polygon points="266.6,404.1 270.2,404.1 268.4,407.4" fill="#ee9e21"/><polygon points="273.6,402.7 277.2,402.7 275.4,406.0" fill="#ee9e21"/><polygon points="264.2,402.3 267.8,402.3 266.0,405.6" fill="#ee9e21"/><polygon points="276.0,402.1 279.6,402.1 277.8,405.4" fill="#ee9e21"/><polygon points="261.8,401.6 265.4,401.6 263.6,404.9" fill="#ee9e21"/><polygon points="278.3,400.3 281.9,400.3 280.1,403.6" fill="#ee9e21"/><polygon points="268.9,409.3 272.5,409.3 270.7,412.6" fill="#ee9e21"/><polygon points="271.3,408.8 274.9,408.8 273.1,412.1" fill="#ee9e21"/><polygon points="266.6,407.9 270.2,407.9 268.4,411.2" fill="#ee9e21"/><polygon points="273.6,407.4 277.2,407.4 275.4,410.7" fill="#ee9e21"/><polygon points="264.2,407.1 267.8,407.1 266.0,410.4" fill="#ee9e21"/><polygon points="276.0,407.0 279.6,407.0 277.8,410.3" fill="#ee9e21"/><polygon points="261.8,405.9 265.4,405.9 263.6,409.2" fill="#ee9e21"/><polygon points="278.3,405.4 281.9,405.4 280.1,408.7" fill="#ee9e21"/><polygon points="268.5,413.8 272.1,413.8 270.3,417.1" fill="#ee9e21"/><polygon points="271.6,412.4 275.2,412.4 273.4,415.7" fill="#ee9e21"/><polygon points="265.4,410.7 269.1,410.7 267.2,414.0" fill="#ee9e21"/><polygon points="274.7,410.0 278.3,410.0 276.5,413.3" fill="#ee9e21"/><polygon points="270.1,417.4 273.7,417.4 271.9,420.6" fill="#ee9e21"/><polygon points="265.1,415.4 268.8,415.4 266.9,418.7" fill="#ee9e21"/><polygon points="275.0,414.9 278.6,414.9 276.8,418.2" fill="#ee9e21"/><circle cx="301.4" cy="357.3" r="1.6" fill="none" stroke="#10869f" stroke-width="1"/><circle cx="300.2" cy="363.1" r="1.6" fill="none" stroke="#10869f" stroke-width="1"/><circle cx="302.6" cy="362.9" r="1.6" fill="none" stroke="#10869f" stroke-width="1"/><circle cx="297.9" cy="362.2" r="1.6" fill="none" stroke="#10869f" stroke-width="1"/><circle cx="304.9" cy="361.4" r="1.6" fill="none" stroke="#10869f" stroke-width="1"/><circle cx="295.5" cy="361.0" r="1.6" fill="none" stroke="#10869f" stroke-width="1"/><circle cx="307.3" cy="360.9" r="1.6" fill="none" stroke="#10869f" stroke-width="1"/><circle cx="293.1" cy="360.9" r="1.6" fill="none" stroke="#10869f" stroke-width="1"/><circle cx="309.6" cy="359.6" r="1.6" fill="none" stroke="#10869f" stroke-width="1"/><circle cx="300.5" cy="368.0" r="1.6" fill="none" stroke="#10869f" stroke-width="1"/><circle cx="302.3" cy="367.7" r="1.6" fill="none" stroke="#10869f" stroke-width="1"/><circle cx="298.6" cy="367.7" r="1.6" fill="none" stroke="#10869f" stroke-width="1"/><circle cx="304.1" cy="367.1" r="1.6" fill="none" stroke="#10869f" stroke-width="1"/><circle cx="296.8" cy="366.0" r="1.6" fill="none" stroke="#10869f" stroke-width="1"/><circle cx="306.0" cy="365.9" r="1.6" fill="none" stroke="#10869f" stroke-width="1"/><circle cx="295.0" cy="365.6" r="1.6" fill="none" stroke="#10869f" stroke-width="1"/><circle cx="307.8" cy="364.5" r="1.6" fill="none" stroke="#10869f" stroke-width="1"/><circle cx="293.1" cy="364.3" r="1.6" fill="none" stroke="#10869f" stroke-width="1"/><circle cx="309.6" cy="364.2" r="1.6" fill="none" stroke="#10869f" stroke-width="1"/><circle cx="301.4" cy="372.8" r="1.6" fill="none" stroke="#10869f" stroke-width="1"/><circle cx="299.8" cy="372.7" r="1.6" fill="none" stroke="#10869f" stroke-width="1"/><circle cx="303.0" cy="372.2" r="1.6" fill="none" stroke="#10869f" stroke-width="1"/><circle cx="298.1" cy="371.8" r="1.6" fill="none" stroke="#10869f" stroke-width="1"/><circle cx="304.7" cy="371.5" r="1.6" fill="none" stroke="#10869f" stroke-width="1"/><circle cx="296.4" cy="371.0" r="1.6" fill="none" stroke="#10869f" stroke-width="1"/><circle cx="306.3" cy="370.8" r="1.6" fill="none" stroke="#10869f" stroke-width="1"/><circle cx="294.8" cy="370.7" r="1.6" fill="none" stroke="#10869f" stroke-width="1"/><circle cx="308.0" cy="369.4" r="1.6" fill="none" stroke="#10869f" stroke-width="1"/><circle cx="293.1" cy="369.3" r="1.6" fill="none" stroke="#10869f" stroke-width="1"/><circle cx="309.6" cy="368.9" r="1.6" fill="none" stroke="#10869f" stroke-width="1"/><circle cx="300.5" cy="378.1" r="1.6" fill="none" stroke="#10869f" stroke-width="1"/><circle cx="302.3" cy="378.0" r="1.6" fill="none" stroke="#10869f" stroke-width="1"/><circle cx="298.6" cy="377.1" r="1.6" fill="none" stroke="#10869f" stroke-width="1"/><circle cx="304.1" cy="377.0" r="1.6" fill="none" stroke="#10869f" stroke-width="1"/><circle cx="296.8" cy="376.7" r="1.6" fill="none" stroke="#10869f" stroke-width="1"/><circle cx="306.0" cy="376.0" r="1.6" fill="none" stroke="#10869f" stroke-width="1"/><circle cx="295.0" cy="375.6" r="1.6" fill="none" stroke="#10869f" stroke-width="1"/><circle cx="307.8" cy="375.2" r="1.6" fill="none" stroke="#10869f" stroke-width="1"/><circle cx="293.1" cy="374.5" r="1.6" fill="none" stroke="#10869f" stroke-width="1"/><circle cx="309.6" cy="374.1" r="1.6" fill="none" stroke="#10869f" stroke-width="1"/><circle cx="301.4" cy="381.1" r="1.6" fill="none" stroke="#10869f" stroke-width="1"/><circle cx="296.4" cy="379.9" r="1.6" fill="none" stroke="#10869f" stroke-width="1"/><circle cx="306.3" cy="379.5" r="1.6" fill="none" stroke="#10869f" stroke-width="1"/><circle cx="301.4" cy="387.2" r="1.6" fill="none" stroke="#10869f" stroke-width="1"/><circle cx="301.4" cy="388.8" r="1.6" fill="none" stroke="#10869f" stroke-width="1"/><circle cx="301.4" cy="396.8" r="1.6" fill="none" stroke="#10869f" stroke-width="1"/><circle cx="331.2" cy="363.7" r="1.95" fill="#10869f"/><circle cx="331.2" cy="366.4" r="1.95" fill="#10869f"/><circle cx="331.2" cy="373.6" r="1.95" fill="#10869f"/><circle cx="328.4" cy="372.7" r="1.95" fill="#10869f"/><circle cx="333.9" cy="372.2" r="1.95" fill="#10869f"/><circle cx="325.7" cy="371.9" r="1.95" fill="#10869f"/><circle cx="336.7" cy="371.1" r="1.95" fill="#10869f"/><circle cx="322.9" cy="370.9" r="1.95" fill="#10869f"/><circle cx="339.4" cy="369.1" r="1.95" fill="#10869f"/><circle cx="329.6" cy="378.3" r="1.95" fill="#10869f"/><circle cx="332.8" cy="377.8" r="1.95" fill="#10869f"/><circle cx="326.6" cy="377.4" r="1.95" fill="#10869f"/><circle cx="335.8" cy="376.5" r="1.95" fill="#10869f"/><circle cx="323.4" cy="376.3" r="1.95" fill="#10869f"/><circle cx="338.9" cy="374.3" r="1.95" fill="#10869f"/><circle cx="331.2" cy="382.7" r="1.95" fill="#10869f"/><circle cx="328.1" cy="382.2" r="1.95" fill="#10869f"/><circle cx="334.3" cy="381.7" r="1.95" fill="#10869f"/><circle cx="325.0" cy="380.1" r="1.95" fill="#10869f"/><circle cx="337.4" cy="379.0" r="1.95" fill="#10869f"/><circle cx="329.6" cy="387.1" r="1.95" fill="#10869f"/><circle cx="332.8" cy="387.1" r="1.95" fill="#10869f"/><circle cx="326.6" cy="386.2" r="1.95" fill="#10869f"/><circle cx="335.8" cy="385.5" r="1.95" fill="#10869f"/><circle cx="323.4" cy="383.8" r="1.95" fill="#10869f"/><circle cx="338.9" cy="383.7" r="1.95" fill="#10869f"/><circle cx="329.6" cy="392.6" r="1.95" fill="#10869f"/><circle cx="332.8" cy="391.1" r="1.95" fill="#10869f"/><circle cx="326.6" cy="390.9" r="1.95" fill="#10869f"/><circle cx="335.8" cy="389.8" r="1.95" fill="#10869f"/><circle cx="323.4" cy="389.1" r="1.95" fill="#10869f"/><circle cx="338.9" cy="388.6" r="1.95" fill="#10869f"/><circle cx="329.6" cy="396.3" r="1.95" fill="#10869f"/><circle cx="332.8" cy="394.4" r="1.95" fill="#10869f"/><circle cx="326.6" cy="393.7" r="1.95" fill="#10869f"/><circle cx="335.8" cy="393.5" r="1.95" fill="#10869f"/><circle cx="331.2" cy="401.4" r="1.95" fill="#10869f"/><circle cx="328.4" cy="401.1" r="1.95" fill="#10869f"/><circle cx="333.9" cy="398.8" r="1.95" fill="#10869f"/><circle cx="325.7" cy="398.4" r="1.95" fill="#10869f"/><circle cx="336.7" cy="397.9" r="1.95" fill="#10869f"/><circle cx="322.9" cy="397.8" r="1.95" fill="#10869f"/><circle cx="339.4" cy="397.7" r="1.95" fill="#10869f"/><circle cx="331.2" cy="407.1" r="1.95" fill="#10869f"/><circle cx="328.4" cy="406.2" r="1.95" fill="#10869f"/><circle cx="333.9" cy="405.3" r="1.95" fill="#10869f"/><circle cx="325.7" cy="404.8" r="1.95" fill="#10869f"/><circle cx="336.7" cy="403.8" r="1.95" fill="#10869f"/><circle cx="322.9" cy="402.8" r="1.95" fill="#10869f"/><circle cx="339.4" cy="402.5" r="1.95" fill="#10869f"/><circle cx="329.6" cy="410.6" r="1.95" fill="#10869f"/><circle cx="332.8" cy="410.3" r="1.95" fill="#10869f"/><circle cx="326.6" cy="409.2" r="1.95" fill="#10869f"/><circle cx="335.8" cy="407.6" r="1.95" fill="#10869f"/><circle cx="326.2" cy="414.9" r="1.95" fill="#10869f"/><circle cx="336.1" cy="412.6" r="1.95" fill="#10869f"/><circle cx="331.2" cy="418.5" r="1.95" fill="#10869f"/><circle cx="360.0" cy="372.1" r="1.95" fill="#e0392e"/><circle cx="360.0" cy="380.6" r="1.95" fill="#e0392e"/><circle cx="355.1" cy="379.3" r="1.95" fill="#e0392e"/><circle cx="364.9" cy="379.2" r="1.95" fill="#e0392e"/><circle cx="360.0" cy="385.7" r="1.95" fill="#e0392e"/><circle cx="357.2" cy="384.4" r="1.95" fill="#e0392e"/><circle cx="362.8" cy="383.2" r="1.95" fill="#e0392e"/><circle cx="354.5" cy="382.7" r="1.95" fill="#e0392e"/><circle cx="365.5" cy="382.1" r="1.95" fill="#e0392e"/><circle cx="351.8" cy="382.0" r="1.95" fill="#e0392e"/><circle cx="368.2" cy="381.8" r="1.95" fill="#e0392e"/><circle cx="360.0" cy="390.8" r="1.95" fill="#e0392e"/><circle cx="357.2" cy="390.0" r="1.95" fill="#e0392e"/><circle cx="362.8" cy="389.6" r="1.95" fill="#e0392e"/><circle cx="354.5" cy="387.1" r="1.95" fill="#e0392e"/><circle cx="365.5" cy="387.0" r="1.95" fill="#e0392e"/><circle cx="351.8" cy="386.3" r="1.95" fill="#e0392e"/><circle cx="368.2" cy="386.3" r="1.95" fill="#e0392e"/><circle cx="358.8" cy="395.5" r="1.95" fill="#e0392e"/><circle cx="361.2" cy="394.9" r="1.95" fill="#e0392e"/><circle cx="356.5" cy="393.7" r="1.95" fill="#e0392e"/><circle cx="363.5" cy="393.6" r="1.95" fill="#e0392e"/><circle cx="354.1" cy="393.2" r="1.95" fill="#e0392e"/><circle cx="365.9" cy="392.9" r="1.95" fill="#e0392e"/><circle cx="351.8" cy="391.5" r="1.95" fill="#e0392e"/><circle cx="368.2" cy="391.4" r="1.95" fill="#e0392e"/><circle cx="358.8" cy="399.9" r="1.95" fill="#e0392e"/><circle cx="361.2" cy="399.7" r="1.95" fill="#e0392e"/><circle cx="356.5" cy="399.5" r="1.95" fill="#e0392e"/><circle cx="363.5" cy="399.1" r="1.95" fill="#e0392e"/><circle cx="354.1" cy="398.6" r="1.95" fill="#e0392e"/><circle cx="365.9" cy="397.8" r="1.95" fill="#e0392e"/><circle cx="351.8" cy="397.0" r="1.95" fill="#e0392e"/><circle cx="368.2" cy="396.8" r="1.95" fill="#e0392e"/><circle cx="358.8" cy="405.3" r="1.95" fill="#e0392e"/><circle cx="361.2" cy="404.2" r="1.95" fill="#e0392e"/><circle cx="356.5" cy="404.2" r="1.95" fill="#e0392e"/><circle cx="363.5" cy="403.1" r="1.95" fill="#e0392e"/><circle cx="354.1" cy="403.1" r="1.95" fill="#e0392e"/><circle cx="365.9" cy="402.2" r="1.95" fill="#e0392e"/><circle cx="351.8" cy="402.0" r="1.95" fill="#e0392e"/><circle cx="368.2" cy="401.8" r="1.95" fill="#e0392e"/><circle cx="358.8" cy="409.8" r="1.95" fill="#e0392e"/><circle cx="361.2" cy="409.1" r="1.95" fill="#e0392e"/><circle cx="356.5" cy="407.9" r="1.95" fill="#e0392e"/><circle cx="363.5" cy="407.8" r="1.95" fill="#e0392e"/><circle cx="354.1" cy="407.4" r="1.95" fill="#e0392e"/><circle cx="365.9" cy="406.9" r="1.95" fill="#e0392e"/><circle cx="351.8" cy="406.4" r="1.95" fill="#e0392e"/><circle cx="368.2" cy="406.1" r="1.95" fill="#e0392e"/><circle cx="358.4" cy="414.8" r="1.95" fill="#e0392e"/><circle cx="361.6" cy="412.9" r="1.95" fill="#e0392e"/><circle cx="355.4" cy="412.3" r="1.95" fill="#e0392e"/><circle cx="364.6" cy="411.9" r="1.95" fill="#e0392e"/><circle cx="352.2" cy="410.8" r="1.95" fill="#e0392e"/><circle cx="367.8" cy="410.2" r="1.95" fill="#e0392e"/><circle cx="360.0" cy="415.8" r="1.95" fill="#e0392e"/><circle cx="360.0" cy="420.9" r="1.95" fill="#e0392e"/><polygon points="388.5,367.8 392.1,367.8 390.3,371.1" fill="#ee9e21"/><polygon points="383.6,366.5 387.2,366.5 385.4,369.8" fill="#ee9e21"/><polygon points="393.4,365.6 397.1,365.6 395.2,368.8" fill="#ee9e21"/><polygon points="383.6,371.2 387.2,371.2 385.4,374.5" fill="#ee9e21"/><polygon points="393.4,368.9 397.1,368.9 395.2,372.2" fill="#ee9e21"/><polygon points="388.5,377.7 392.1,377.7 390.3,381.0" fill="#ee9e21"/><polygon points="383.6,375.4 387.2,375.4 385.4,378.7" fill="#ee9e21"/><polygon points="393.4,375.1 397.1,375.1 395.2,378.4" fill="#ee9e21"/><polygon points="386.9,381.5 390.6,381.5 388.8,384.8" fill="#ee9e21"/><polygon points="390.1,379.8 393.7,379.8 391.9,383.1" fill="#ee9e21"/><polygon points="383.9,379.0 387.5,379.0 385.7,382.3" fill="#ee9e21"/><polygon points="393.1,378.9 396.8,378.9 394.9,382.2" fill="#ee9e21"/><polygon points="388.5,387.5 392.1,387.5 390.3,390.8" fill="#ee9e21"/><polygon points="385.8,386.9 389.4,386.9 387.6,390.2" fill="#ee9e21"/><polygon points="391.2,386.3 394.9,386.3 393.1,389.6" fill="#ee9e21"/><polygon points="383.0,386.1 386.6,386.1 384.8,389.4" fill="#ee9e21"/><polygon points="394.0,384.9 397.6,384.9 395.8,388.2" fill="#ee9e21"/><polygon points="380.2,384.6 383.9,384.6 382.1,387.9" fill="#ee9e21"/><polygon points="396.8,383.0 400.4,383.0 398.6,386.3" fill="#ee9e21"/><polygon points="386.9,391.2 390.6,391.2 388.8,394.5" fill="#ee9e21"/><polygon points="390.1,390.8 393.7,390.8 391.9,394.1" fill="#ee9e21"/><polygon points="383.9,390.2 387.5,390.2 385.7,393.5" fill="#ee9e21"/><polygon points="393.1,388.8 396.8,388.8 394.9,392.1" fill="#ee9e21"/><polygon points="388.5,397.0 392.1,397.0 390.3,400.3" fill="#ee9e21"/><polygon points="386.4,395.7 390.0,395.7 388.2,399.0" fill="#ee9e21"/><polygon points="390.6,395.6 394.2,395.6 392.4,398.9" fill="#ee9e21"/><polygon points="384.4,395.1 388.0,395.1 386.2,398.4" fill="#ee9e21"/><polygon points="392.6,395.1 396.2,395.1 394.4,398.4" fill="#ee9e21"/><polygon points="382.3,393.4 385.9,393.4 384.1,396.7" fill="#ee9e21"/><polygon points="394.7,392.9 398.3,392.9 396.5,396.2" fill="#ee9e21"/><polygon points="380.2,392.7 383.9,392.7 382.1,396.0" fill="#ee9e21"/><polygon points="396.8,392.7 400.4,392.7 398.6,396.0" fill="#ee9e21"/><polygon points="387.3,401.0 390.9,401.0 389.1,404.3" fill="#ee9e21"/><polygon points="389.7,400.4 393.3,400.4 391.5,403.7" fill="#ee9e21"/><polygon points="385.0,400.1 388.6,400.1 386.8,403.4" fill="#ee9e21"/><polygon points="392.0,400.1 395.6,400.1 393.8,403.4" fill="#ee9e21"/><polygon points="382.6,399.3 386.2,399.3 384.4,402.6" fill="#ee9e21"/><polygon points="394.4,398.6 398.0,398.6 396.2,401.9" fill="#ee9e21"/><polygon points="380.2,397.9 383.9,397.9 382.1,401.2" fill="#ee9e21"/><polygon points="396.8,397.7 400.4,397.7 398.6,401.0" fill="#ee9e21"/><polygon points="387.3,406.5 390.9,406.5 389.1,409.8" fill="#ee9e21"/><polygon points="389.7,406.4 393.3,406.4 391.5,409.7" fill="#ee9e21"/><polygon points="385.0,405.7 388.6,405.7 386.8,409.0" fill="#ee9e21"/><polygon points="392.0,405.0 395.6,405.0 393.8,408.3" fill="#ee9e21"/><polygon points="382.6,403.3 386.2,403.3 384.4,406.6" fill="#ee9e21"/><polygon points="394.4,403.2 398.0,403.2 396.2,406.5" fill="#ee9e21"/><polygon points="380.2,402.7 383.9,402.7 382.1,406.0" fill="#ee9e21"/><polygon points="396.8,402.2 400.4,402.2 398.6,405.5" fill="#ee9e21"/><polygon points="386.9,411.7 390.6,411.7 388.8,415.0" fill="#ee9e21"/><polygon points="390.1,410.6 393.7,410.6 391.9,413.9" fill="#ee9e21"/><polygon points="383.9,409.8 387.5,409.8 385.7,413.1" fill="#ee9e21"/><polygon points="393.1,408.6 396.8,408.6 394.9,411.9" fill="#ee9e21"/><polygon points="380.8,408.4 384.4,408.4 382.6,411.7" fill="#ee9e21"/><polygon points="396.2,407.6 399.9,407.6 398.1,410.9" fill="#ee9e21"/><polygon points="386.9,416.1 390.6,416.1 388.8,419.3" fill="#ee9e21"/><polygon points="390.1,414.3 393.7,414.3 391.9,417.6" fill="#ee9e21"/><polygon points="383.9,412.9 387.5,412.9 385.7,416.2" fill="#ee9e21"/><polygon points="393.1,412.4 396.8,412.4 394.9,415.7" fill="#ee9e21"/><circle cx="420.4" cy="358.8" r="1.6" fill="none" stroke="#10869f" stroke-width="1"/><circle cx="418.8" cy="365.1" r="1.6" fill="none" stroke="#10869f" stroke-width="1"/><circle cx="421.9" cy="364.6" r="1.6" fill="none" stroke="#10869f" stroke-width="1"/><circle cx="415.8" cy="362.1" r="1.6" fill="none" stroke="#10869f" stroke-width="1"/><circle cx="425.0" cy="361.1" r="1.6" fill="none" stroke="#10869f" stroke-width="1"/><circle cx="420.4" cy="369.7" r="1.6" fill="none" stroke="#10869f" stroke-width="1"/><circle cx="415.4" cy="367.6" r="1.6" fill="none" stroke="#10869f" stroke-width="1"/><circle cx="425.3" cy="367.0" r="1.6" fill="none" stroke="#10869f" stroke-width="1"/><circle cx="418.8" cy="374.5" r="1.6" fill="none" stroke="#10869f" stroke-width="1"/><circle cx="421.9" cy="373.4" r="1.6" fill="none" stroke="#10869f" stroke-width="1"/><circle cx="415.8" cy="373.0" r="1.6" fill="none" stroke="#10869f" stroke-width="1"/><circle cx="425.0" cy="372.4" r="1.6" fill="none" stroke="#10869f" stroke-width="1"/><circle cx="412.6" cy="371.5" r="1.6" fill="none" stroke="#10869f" stroke-width="1"/><circle cx="428.1" cy="370.5" r="1.6" fill="none" stroke="#10869f" stroke-width="1"/><circle cx="420.4" cy="378.9" r="1.6" fill="none" stroke="#10869f" stroke-width="1"/><circle cx="417.3" cy="377.8" r="1.6" fill="none" stroke="#10869f" stroke-width="1"/><circle cx="423.5" cy="377.2" r="1.6" fill="none" stroke="#10869f" stroke-width="1"/><circle cx="414.2" cy="376.5" r="1.6" fill="none" stroke="#10869f" stroke-width="1"/><circle cx="426.6" cy="376.1" r="1.6" fill="none" stroke="#10869f" stroke-width="1"/><circle cx="420.4" cy="383.4" r="1.6" fill="none" stroke="#10869f" stroke-width="1"/><circle cx="417.3" cy="382.6" r="1.6" fill="none" stroke="#10869f" stroke-width="1"/><circle cx="423.5" cy="381.7" r="1.6" fill="none" stroke="#10869f" stroke-width="1"/><circle cx="414.2" cy="381.2" r="1.6" fill="none" stroke="#10869f" stroke-width="1"/><circle cx="426.6" cy="379.9" r="1.6" fill="none" stroke="#10869f" stroke-width="1"/><circle cx="418.8" cy="389.2" r="1.6" fill="none" stroke="#10869f" stroke-width="1"/><circle cx="421.9" cy="388.1" r="1.6" fill="none" stroke="#10869f" stroke-width="1"/><circle cx="415.8" cy="387.8" r="1.6" fill="none" stroke="#10869f" stroke-width="1"/><circle cx="425.0" cy="386.5" r="1.6" fill="none" stroke="#10869f" stroke-width="1"/><circle cx="412.6" cy="384.7" r="1.6" fill="none" stroke="#10869f" stroke-width="1"/><circle cx="428.1" cy="384.7" r="1.6" fill="none" stroke="#10869f" stroke-width="1"/><circle cx="418.8" cy="392.6" r="1.6" fill="none" stroke="#10869f" stroke-width="1"/><circle cx="421.9" cy="391.8" r="1.6" fill="none" stroke="#10869f" stroke-width="1"/><circle cx="415.8" cy="390.9" r="1.6" fill="none" stroke="#10869f" stroke-width="1"/><circle cx="425.0" cy="390.4" r="1.6" fill="none" stroke="#10869f" stroke-width="1"/><circle cx="420.4" cy="398.0" r="1.6" fill="none" stroke="#10869f" stroke-width="1"/><circle cx="417.6" cy="397.9" r="1.6" fill="none" stroke="#10869f" stroke-width="1"/><circle cx="423.1" cy="397.4" r="1.6" fill="none" stroke="#10869f" stroke-width="1"/><circle cx="414.9" cy="396.8" r="1.6" fill="none" stroke="#10869f" stroke-width="1"/><circle cx="425.9" cy="395.9" r="1.6" fill="none" stroke="#10869f" stroke-width="1"/><circle cx="412.1" cy="394.8" r="1.6" fill="none" stroke="#10869f" stroke-width="1"/><circle cx="428.6" cy="394.8" r="1.6" fill="none" stroke="#10869f" stroke-width="1"/><circle cx="420.4" cy="403.0" r="1.6" fill="none" stroke="#10869f" stroke-width="1"/><circle cx="415.4" cy="400.7" r="1.6" fill="none" stroke="#10869f" stroke-width="1"/><circle cx="425.3" cy="400.5" r="1.6" fill="none" stroke="#10869f" stroke-width="1"/><circle cx="420.4" cy="408.1" r="1.6" fill="none" stroke="#10869f" stroke-width="1"/><circle cx="417.3" cy="407.4" r="1.6" fill="none" stroke="#10869f" stroke-width="1"/><circle cx="423.5" cy="407.0" r="1.6" fill="none" stroke="#10869f" stroke-width="1"/><circle cx="414.2" cy="406.8" r="1.6" fill="none" stroke="#10869f" stroke-width="1"/><circle cx="426.6" cy="404.6" r="1.6" fill="none" stroke="#10869f" stroke-width="1"/><circle cx="420.4" cy="409.5" r="1.6" fill="none" stroke="#10869f" stroke-width="1"/><circle cx="449.9" cy="368.5" r="1.95" fill="#10869f"/><circle cx="449.9" cy="377.1" r="1.95" fill="#10869f"/><circle cx="447.1" cy="376.3" r="1.95" fill="#10869f"/><circle cx="452.6" cy="375.5" r="1.95" fill="#10869f"/><circle cx="444.4" cy="374.8" r="1.95" fill="#10869f"/><circle cx="455.4" cy="373.7" r="1.95" fill="#10869f"/><circle cx="441.6" cy="373.6" r="1.95" fill="#10869f"/><circle cx="458.1" cy="373.5" r="1.95" fill="#10869f"/><circle cx="449.9" cy="381.9" r="1.95" fill="#10869f"/><circle cx="447.1" cy="381.8" r="1.95" fill="#10869f"/><circle cx="452.6" cy="381.3" r="1.95" fill="#10869f"/><circle cx="444.4" cy="379.9" r="1.95" fill="#10869f"/><circle cx="455.4" cy="379.2" r="1.95" fill="#10869f"/><circle cx="441.6" cy="378.6" r="1.95" fill="#10869f"/><circle cx="458.1" cy="377.5" r="1.95" fill="#10869f"/><circle cx="449.9" cy="386.8" r="1.95" fill="#10869f"/><circle cx="447.1" cy="386.5" r="1.95" fill="#10869f"/><circle cx="452.6" cy="385.3" r="1.95" fill="#10869f"/><circle cx="444.4" cy="385.1" r="1.95" fill="#10869f"/><circle cx="455.4" cy="384.0" r="1.95" fill="#10869f"/><circle cx="441.6" cy="383.9" r="1.95" fill="#10869f"/><circle cx="458.1" cy="383.8" r="1.95" fill="#10869f"/><circle cx="448.3" cy="391.2" r="1.95" fill="#10869f"/><circle cx="451.4" cy="391.1" r="1.95" fill="#10869f"/><circle cx="445.2" cy="390.4" r="1.95" fill="#10869f"/><circle cx="454.5" cy="390.1" r="1.95" fill="#10869f"/><circle cx="442.1" cy="388.3" r="1.95" fill="#10869f"/><circle cx="457.6" cy="387.7" r="1.95" fill="#10869f"/><circle cx="448.3" cy="396.2" r="1.95" fill="#10869f"/><circle cx="451.4" cy="395.7" r="1.95" fill="#10869f"/><circle cx="445.2" cy="395.6" r="1.95" fill="#10869f"/><circle cx="454.5" cy="393.7" r="1.95" fill="#10869f"/><circle cx="442.1" cy="392.3" r="1.95" fill="#10869f"/><circle cx="457.6" cy="391.7" r="1.95" fill="#10869f"/><circle cx="449.9" cy="401.3" r="1.95" fill="#10869f"/><circle cx="447.1" cy="400.2" r="1.95" fill="#10869f"/><circle cx="452.6" cy="399.6" r="1.95" fill="#10869f"/><circle cx="444.4" cy="399.3" r="1.95" fill="#10869f"/><circle cx="455.4" cy="398.0" r="1.95" fill="#10869f"/><circle cx="441.6" cy="397.1" r="1.95" fill="#10869f"/><circle cx="458.1" cy="396.8" r="1.95" fill="#10869f"/><circle cx="449.9" cy="405.4" r="1.95" fill="#10869f"/><circle cx="447.1" cy="405.3" r="1.95" fill="#10869f"/><circle cx="452.6" cy="405.2" r="1.95" fill="#10869f"/><circle cx="444.4" cy="403.8" r="1.95" fill="#10869f"/><circle cx="455.4" cy="402.5" r="1.95" fill="#10869f"/><circle cx="441.6" cy="402.5" r="1.95" fill="#10869f"/><circle cx="458.1" cy="402.1" r="1.95" fill="#10869f"/><circle cx="449.9" cy="410.5" r="1.95" fill="#10869f"/><circle cx="447.1" cy="410.3" r="1.95" fill="#10869f"/><circle cx="452.6" cy="410.0" r="1.95" fill="#10869f"/><circle cx="444.4" cy="409.3" r="1.95" fill="#10869f"/><circle cx="455.4" cy="408.7" r="1.95" fill="#10869f"/><circle cx="441.6" cy="407.9" r="1.95" fill="#10869f"/><circle cx="458.1" cy="406.2" r="1.95" fill="#10869f"/><circle cx="444.9" cy="415.5" r="1.95" fill="#10869f"/><circle cx="454.8" cy="411.5" r="1.95" fill="#10869f"/><circle cx="479.5" cy="375.0" r="1.95" fill="#e0392e"/><circle cx="477.9" cy="379.1" r="1.95" fill="#e0392e"/><circle cx="481.1" cy="378.6" r="1.95" fill="#e0392e"/><circle cx="474.9" cy="377.8" r="1.95" fill="#e0392e"/><circle cx="484.1" cy="376.9" r="1.95" fill="#e0392e"/><circle cx="477.9" cy="384.1" r="1.95" fill="#e0392e"/><circle cx="481.1" cy="383.9" r="1.95" fill="#e0392e"/><circle cx="474.9" cy="383.3" r="1.95" fill="#e0392e"/><circle cx="484.1" cy="382.1" r="1.95" fill="#e0392e"/><circle cx="479.5" cy="389.2" r="1.95" fill="#e0392e"/><circle cx="476.8" cy="388.3" r="1.95" fill="#e0392e"/><circle cx="482.2" cy="388.2" r="1.95" fill="#e0392e"/><circle cx="474.0" cy="386.9" r="1.95" fill="#e0392e"/><circle cx="485.0" cy="386.7" r="1.95" fill="#e0392e"/><circle cx="471.2" cy="386.2" r="1.95" fill="#e0392e"/><circle cx="487.8" cy="386.1" r="1.95" fill="#e0392e"/><circle cx="478.3" cy="394.5" r="1.95" fill="#e0392e"/><circle cx="480.7" cy="394.0" r="1.95" fill="#e0392e"/><circle cx="476.0" cy="393.3" r="1.95" fill="#e0392e"/><circle cx="483.0" cy="392.3" r="1.95" fill="#e0392e"/><circle cx="473.6" cy="391.6" r="1.95" fill="#e0392e"/><circle cx="485.4" cy="391.2" r="1.95" fill="#e0392e"/><circle cx="471.2" cy="390.9" r="1.95" fill="#e0392e"/><circle cx="487.8" cy="390.5" r="1.95" fill="#e0392e"/><circle cx="478.3" cy="399.8" r="1.95" fill="#e0392e"/><circle cx="480.7" cy="399.8" r="1.95" fill="#e0392e"/><circle cx="476.0" cy="398.5" r="1.95" fill="#e0392e"/><circle cx="483.0" cy="397.4" r="1.95" fill="#e0392e"/><circle cx="473.6" cy="396.8" r="1.95" fill="#e0392e"/><circle cx="485.4" cy="396.3" r="1.95" fill="#e0392e"/><circle cx="471.2" cy="396.1" r="1.95" fill="#e0392e"/><circle cx="487.8" cy="395.8" r="1.95" fill="#e0392e"/><circle cx="479.5" cy="404.1" r="1.95" fill="#e0392e"/><circle cx="476.4" cy="403.2" r="1.95" fill="#e0392e"/><circle cx="482.6" cy="402.5" r="1.95" fill="#e0392e"/><circle cx="473.3" cy="401.9" r="1.95" fill="#e0392e"/><circle cx="485.7" cy="401.8" r="1.95" fill="#e0392e"/><circle cx="479.5" cy="408.6" r="1.95" fill="#e0392e"/><circle cx="476.8" cy="407.9" r="1.95" fill="#e0392e"/><circle cx="482.2" cy="407.6" r="1.95" fill="#e0392e"/><circle cx="474.0" cy="406.8" r="1.95" fill="#e0392e"/><circle cx="485.0" cy="406.1" r="1.95" fill="#e0392e"/><circle cx="471.2" cy="405.0" r="1.95" fill="#e0392e"/><circle cx="487.8" cy="404.9" r="1.95" fill="#e0392e"/><circle cx="477.9" cy="413.3" r="1.95" fill="#e0392e"/><circle cx="481.1" cy="412.5" r="1.95" fill="#e0392e"/><circle cx="474.9" cy="411.8" r="1.95" fill="#e0392e"/><circle cx="484.1" cy="411.2" r="1.95" fill="#e0392e"/><circle cx="471.8" cy="410.2" r="1.95" fill="#e0392e"/><circle cx="487.2" cy="409.8" r="1.95" fill="#e0392e"/><circle cx="479.5" cy="418.0" r="1.95" fill="#e0392e"/><circle cx="476.8" cy="416.9" r="1.95" fill="#e0392e"/><circle cx="482.2" cy="416.7" r="1.95" fill="#e0392e"/><circle cx="474.0" cy="416.6" r="1.95" fill="#e0392e"/><circle cx="485.0" cy="415.4" r="1.95" fill="#e0392e"/><circle cx="471.2" cy="415.3" r="1.95" fill="#e0392e"/><circle cx="487.8" cy="414.9" r="1.95" fill="#e0392e"/><circle cx="479.5" cy="421.5" r="1.95" fill="#e0392e"/><circle cx="474.6" cy="419.2" r="1.95" fill="#e0392e"/><circle cx="484.4" cy="419.1" r="1.95" fill="#e0392e"/><polygon points="502.9,369.1 506.5,369.1 504.7,372.4" fill="#ee9e21"/><polygon points="512.8,366.9 516.4,366.9 514.6,370.1" fill="#ee9e21"/><polygon points="507.8,371.2 511.4,371.2 509.6,374.5" fill="#ee9e21"/><polygon points="502.9,379.9 506.5,379.9 504.7,383.2" fill="#ee9e21"/><polygon points="512.8,376.7 516.4,376.7 514.6,380.0" fill="#ee9e21"/><polygon points="507.8,384.8 511.4,384.8 509.6,388.1" fill="#ee9e21"/><polygon points="502.9,383.4 506.5,383.4 504.7,386.7" fill="#ee9e21"/><polygon points="512.8,382.8 516.4,382.8 514.6,386.1" fill="#ee9e21"/><polygon points="506.2,389.5 509.9,389.5 508.1,392.8" fill="#ee9e21"/><polygon points="509.4,388.8 513.0,388.8 511.2,392.1" fill="#ee9e21"/><polygon points="503.2,388.0 506.8,388.0 505.0,391.3" fill="#ee9e21"/><polygon points="512.5,385.8 516.0,385.8 514.2,389.1" fill="#ee9e21"/><polygon points="506.2,393.5 509.9,393.5 508.1,396.8" fill="#ee9e21"/><polygon points="509.4,393.2 513.0,393.2 511.2,396.5" fill="#ee9e21"/><polygon points="503.2,392.6 506.8,392.6 505.0,395.9" fill="#ee9e21"/><polygon points="512.5,391.1 516.0,391.1 514.2,394.4" fill="#ee9e21"/><polygon points="506.6,399.2 510.2,399.2 508.4,402.5" fill="#ee9e21"/><polygon points="509.0,398.9 512.6,398.9 510.8,402.2" fill="#ee9e21"/><polygon points="504.3,398.0 507.9,398.0 506.1,401.3" fill="#ee9e21"/><polygon points="511.3,397.8 514.9,397.8 513.1,401.1" fill="#ee9e21"/><polygon points="501.9,396.2 505.5,396.2 503.7,399.5" fill="#ee9e21"/><polygon points="513.7,396.1 517.3,396.1 515.5,399.4" fill="#ee9e21"/><polygon points="499.6,395.9 503.2,395.9 501.4,399.2" fill="#ee9e21"/><polygon points="516.1,395.3 519.6,395.3 517.9,398.6" fill="#ee9e21"/><polygon points="507.8,403.8 511.4,403.8 509.6,407.1" fill="#ee9e21"/><polygon points="505.7,403.7 509.3,403.7 507.5,407.0" fill="#ee9e21"/><polygon points="509.9,403.7 513.5,403.7 511.7,407.0" fill="#ee9e21"/><polygon points="503.7,402.9 507.3,402.9 505.5,406.2" fill="#ee9e21"/><polygon points="511.9,401.1 515.5,401.1 513.7,404.4" fill="#ee9e21"/><polygon points="501.6,400.9 505.2,400.9 503.4,404.2" fill="#ee9e21"/><polygon points="514.0,400.7 517.6,400.7 515.8,404.0" fill="#ee9e21"/><polygon points="499.6,400.7 503.2,400.7 501.4,404.0" fill="#ee9e21"/><polygon points="516.1,400.4 519.6,400.4 517.9,403.7" fill="#ee9e21"/><polygon points="506.9,408.9 510.5,408.9 508.7,412.2" fill="#ee9e21"/><polygon points="508.7,408.6 512.3,408.6 510.5,411.9" fill="#ee9e21"/><polygon points="505.1,408.4 508.7,408.4 506.9,411.7" fill="#ee9e21"/><polygon points="510.6,408.2 514.1,408.2 512.4,411.5" fill="#ee9e21"/><polygon points="503.2,407.5 506.8,407.5 505.0,410.8" fill="#ee9e21"/><polygon points="512.4,407.4 516.0,407.4 514.2,410.7" fill="#ee9e21"/><polygon points="501.4,406.0 505.0,406.0 503.2,409.3" fill="#ee9e21"/><polygon points="514.2,404.9 517.8,404.9 516.0,408.2" fill="#ee9e21"/><polygon points="499.6,404.7 503.2,404.7 501.4,408.0" fill="#ee9e21"/><polygon points="516.1,404.7 519.6,404.7 517.9,408.0" fill="#ee9e21"/><polygon points="507.8,412.1 511.4,412.1 509.6,415.4" fill="#ee9e21"/><polygon points="505.1,411.3 508.7,411.3 506.9,414.6" fill="#ee9e21"/><polygon points="510.6,411.3 514.1,411.3 512.4,414.6" fill="#ee9e21"/><polygon points="502.3,410.8 505.9,410.8 504.1,414.1" fill="#ee9e21"/><polygon points="513.3,410.1 516.9,410.1 515.1,413.4" fill="#ee9e21"/><polygon points="499.6,409.9 503.2,409.9 501.4,413.2" fill="#ee9e21"/><polygon points="516.1,409.3 519.6,409.3 517.9,412.6" fill="#ee9e21"/><polygon points="506.2,416.2 509.9,416.2 508.1,419.5" fill="#ee9e21"/><polygon points="509.4,416.1 513.0,416.1 511.2,419.4" fill="#ee9e21"/><polygon points="503.2,415.9 506.8,415.9 505.0,419.2" fill="#ee9e21"/><polygon points="512.5,415.3 516.0,415.3 514.2,418.6" fill="#ee9e21"/><polygon points="500.1,414.0 503.7,414.0 501.9,417.3" fill="#ee9e21"/><polygon points="515.6,413.9 519.1,413.9 517.4,417.2" fill="#ee9e21"/><polygon points="502.9,419.1 506.5,419.1 504.7,422.4" fill="#ee9e21"/><polygon points="512.8,418.7 516.4,418.7 514.6,421.9" fill="#ee9e21"/><circle cx="538.8" cy="367.8" r="1.95" fill="#b0b0b0"/><circle cx="538.8" cy="376.7" r="1.95" fill="#b0b0b0"/><circle cx="538.8" cy="382.9" r="1.95" fill="#b0b0b0"/><circle cx="533.8" cy="382.9" r="1.95" fill="#b0b0b0"/><circle cx="543.8" cy="380.2" r="1.95" fill="#b0b0b0"/><circle cx="538.8" cy="387.4" r="1.95" fill="#b0b0b0"/><circle cx="533.8" cy="386.1" r="1.95" fill="#b0b0b0"/><circle cx="543.8" cy="385.4" r="1.95" fill="#b0b0b0"/><circle cx="538.8" cy="393.9" r="1.95" fill="#b0b0b0"/><circle cx="535.7" cy="392.8" r="1.95" fill="#b0b0b0"/><circle cx="541.9" cy="390.9" r="1.95" fill="#b0b0b0"/><circle cx="532.6" cy="389.9" r="1.95" fill="#b0b0b0"/><circle cx="545.0" cy="389.5" r="1.95" fill="#b0b0b0"/><circle cx="537.2" cy="398.4" r="1.95" fill="#b0b0b0"/><circle cx="540.3" cy="397.7" r="1.95" fill="#b0b0b0"/><circle cx="534.1" cy="397.3" r="1.95" fill="#b0b0b0"/><circle cx="543.4" cy="395.0" r="1.95" fill="#b0b0b0"/><circle cx="538.8" cy="403.3" r="1.95" fill="#b0b0b0"/><circle cx="536.7" cy="403.3" r="1.95" fill="#b0b0b0"/><circle cx="540.9" cy="402.7" r="1.95" fill="#b0b0b0"/><circle cx="534.7" cy="402.5" r="1.95" fill="#b0b0b0"/><circle cx="542.9" cy="402.0" r="1.95" fill="#b0b0b0"/><circle cx="532.6" cy="401.4" r="1.95" fill="#b0b0b0"/><circle cx="545.0" cy="401.0" r="1.95" fill="#b0b0b0"/><circle cx="530.5" cy="400.9" r="1.95" fill="#b0b0b0"/><circle cx="547.0" cy="399.9" r="1.95" fill="#b0b0b0"/><circle cx="537.2" cy="407.9" r="1.95" fill="#b0b0b0"/><circle cx="540.3" cy="407.2" r="1.95" fill="#b0b0b0"/><circle cx="534.1" cy="405.4" r="1.95" fill="#b0b0b0"/><circle cx="543.4" cy="405.4" r="1.95" fill="#b0b0b0"/><circle cx="531.0" cy="404.9" r="1.95" fill="#b0b0b0"/><circle cx="546.5" cy="404.1" r="1.95" fill="#b0b0b0"/><circle cx="537.2" cy="411.7" r="1.95" fill="#b0b0b0"/><circle cx="540.3" cy="411.6" r="1.95" fill="#b0b0b0"/><circle cx="534.1" cy="410.3" r="1.95" fill="#b0b0b0"/><circle cx="543.4" cy="410.0" r="1.95" fill="#b0b0b0"/><circle cx="538.8" cy="417.5" r="1.95" fill="#b0b0b0"/><circle cx="535.7" cy="416.5" r="1.95" fill="#b0b0b0"/><circle cx="541.9" cy="415.0" r="1.95" fill="#b0b0b0"/><circle cx="532.6" cy="414.7" r="1.95" fill="#b0b0b0"/><circle cx="545.0" cy="413.5" r="1.95" fill="#b0b0b0"/><circle cx="537.2" cy="422.4" r="1.95" fill="#b0b0b0"/><circle cx="540.3" cy="421.5" r="1.95" fill="#b0b0b0"/><circle cx="534.1" cy="419.2" r="1.95" fill="#b0b0b0"/><circle cx="543.4" cy="418.6" r="1.95" fill="#b0b0b0"/><circle cx="538.8" cy="424.2" r="1.95" fill="#b0b0b0"/><circle cx="538.8" cy="428.3" r="1.95" fill="#b0b0b0"/>
<path d="M54.40 369.5 H73.80" stroke="#333" stroke-width="1.3"/>
<path d="M64.10 359.2 V380.3 M59.40 359.2 H68.80 M59.40 380.3 H68.80" stroke="#111" stroke-width="1.2" fill="none"/>
<path d="M84.00 390.4 H103.40" stroke="#333" stroke-width="1.3"/>
<path d="M93.70 376.7 V404.4 M89.00 376.7 H98.40 M89.00 404.4 H98.40" stroke="#111" stroke-width="1.2" fill="none"/>
<path d="M113.60 394.1 H133.00" stroke="#333" stroke-width="1.3"/>
<path d="M123.30 381.0 V406.5 M118.60 381.0 H128.00 M118.60 406.5 H128.00" stroke="#111" stroke-width="1.2" fill="none"/>
<path d="M143.60 394.3 H163.00" stroke="#333" stroke-width="1.3"/>
<path d="M153.30 381.4 V407.3 M148.60 381.4 H158.00 M148.60 407.3 H158.00" stroke="#111" stroke-width="1.2" fill="none"/>
<path d="M173.10 382.5 H192.50" stroke="#333" stroke-width="1.3"/>
<path d="M182.80 369.1 V395.5 M178.10 369.1 H187.50 M178.10 395.5 H187.50" stroke="#111" stroke-width="1.2" fill="none"/>
<path d="M202.50 395.5 H221.90" stroke="#333" stroke-width="1.3"/>
<path d="M212.20 383.9 V407.2 M207.50 383.9 H216.90 M207.50 407.2 H216.90" stroke="#111" stroke-width="1.2" fill="none"/>
<path d="M232.30 393.2 H251.70" stroke="#333" stroke-width="1.3"/>
<path d="M242.00 380.4 V405.8 M237.30 380.4 H246.70 M237.30 405.8 H246.70" stroke="#111" stroke-width="1.2" fill="none"/>
<path d="M262.20 399.4 H281.60" stroke="#333" stroke-width="1.3"/>
<path d="M271.90 388.3 V410.3 M267.20 388.3 H276.60 M267.20 410.3 H276.60" stroke="#111" stroke-width="1.2" fill="none"/>
<path d="M291.70 371.1 H311.10" stroke="#333" stroke-width="1.3"/>
<path d="M301.40 363.6 V378.7 M296.70 363.6 H306.10 M296.70 378.7 H306.10" stroke="#111" stroke-width="1.2" fill="none"/>
<path d="M321.50 390.4 H340.90" stroke="#333" stroke-width="1.3"/>
<path d="M331.20 375.6 V405.0 M326.50 375.6 H335.90 M326.50 405.0 H335.90" stroke="#111" stroke-width="1.2" fill="none"/>
<path d="M350.30 398.2 H369.70" stroke="#333" stroke-width="1.3"/>
<path d="M360.00 386.5 V410.2 M355.30 386.5 H364.70 M355.30 410.2 H364.70" stroke="#111" stroke-width="1.2" fill="none"/>
<path d="M380.60 396.6 H400.00" stroke="#333" stroke-width="1.3"/>
<path d="M390.30 383.4 V409.5 M385.60 383.4 H395.00 M385.60 409.5 H395.00" stroke="#111" stroke-width="1.2" fill="none"/>
<path d="M410.70 382.2 H430.10" stroke="#333" stroke-width="1.3"/>
<path d="M420.40 369.4 V395.8 M415.70 369.4 H425.10 M415.70 395.8 H425.10" stroke="#111" stroke-width="1.2" fill="none"/>
<path d="M440.20 394.1 H459.60" stroke="#333" stroke-width="1.3"/>
<path d="M449.90 381.3 V408.1 M445.20 381.3 H454.60 M445.20 408.1 H454.60" stroke="#111" stroke-width="1.2" fill="none"/>
<path d="M469.80 402.3 H489.20" stroke="#333" stroke-width="1.3"/>
<path d="M479.50 389.6 V414.7 M474.80 389.6 H484.20 M474.80 414.7 H484.20" stroke="#111" stroke-width="1.2" fill="none"/>
<path d="M499.90 403.4 H519.30" stroke="#333" stroke-width="1.3"/>
<path d="M509.60 390.4 V415.3 M504.90 390.4 H514.30 M504.90 415.3 H514.30" stroke="#111" stroke-width="1.2" fill="none"/>
<path d="M529.10 401.2 H548.50" stroke="#333" stroke-width="1.3"/>
<path d="M538.80 388.3 V415.4 M534.10 388.3 H543.50 M534.10 415.4 H543.50" stroke="#111" stroke-width="1.2" fill="none"/>
<path d="M63.0 331.8 V330.3 H122.3 V348.3" fill="none" stroke="#333" stroke-width="1.2"/><path d="M94.3 348.3 H151.9" stroke="#333" stroke-width="1.2"/>
<path d="M184.5 337.4 V335.9 H244.2 V353.4" fill="none" stroke="#333" stroke-width="1.2"/><path d="M213.7 353.4 H270.9" stroke="#333" stroke-width="1.2"/>
<path d="M301.2 331.1 V329.6 H359.6 V340.0" fill="none" stroke="#333" stroke-width="1.2"/><path d="M331.4 340.0 H388.8" stroke="#333" stroke-width="1.2"/>
<path d="M422.4 331.1 V329.6 H480.7 V339.4" fill="none" stroke="#333" stroke-width="1.2"/><path d="M452.2 339.4 H509.9" stroke="#333" stroke-width="1.2"/>
<path d="M332.2 354.8 V353.3 H375.4 V361.0" fill="none" stroke="#8a8a8a" stroke-width="1.1"/><path d="M360.2 361.0 H389.9" stroke="#8a8a8a" stroke-width="1.1"/>
<path d="M452.6 355.3 V353.8 H495.9 V361.4" fill="none" stroke="#ababab" stroke-width="1.1"/><path d="M480.7 361.4 H510.4" stroke="#ababab" stroke-width="1.1"/>
<text x="86.20" y="329.50" font-size="10" font-weight="bold" text-anchor="middle" fill="#111">*</text><text x="90.90" y="329.50" font-size="10" font-weight="bold" text-anchor="middle" fill="#111">*</text><text x="95.60" y="329.50" font-size="10" font-weight="bold" text-anchor="middle" fill="#111">*</text>
<text x="208.40" y="334.70" font-size="10" font-weight="bold" text-anchor="middle" fill="#111">*</text><text x="213.10" y="334.70" font-size="10" font-weight="bold" text-anchor="middle" fill="#111">*</text><text x="217.80" y="334.70" font-size="10" font-weight="bold" text-anchor="middle" fill="#111">*</text>
<text x="325.45" y="329.70" font-size="10" font-weight="bold" text-anchor="middle" fill="#111">*</text><text x="330.15" y="329.70" font-size="10" font-weight="bold" text-anchor="middle" fill="#111">*</text><text x="334.85" y="329.70" font-size="10" font-weight="bold" text-anchor="middle" fill="#111">*</text>
<text x="444.85" y="329.20" font-size="10" font-weight="bold" text-anchor="middle" fill="#111">*</text><text x="449.55" y="329.20" font-size="10" font-weight="bold" text-anchor="middle" fill="#111">*</text><text x="454.25" y="329.20" font-size="10" font-weight="bold" text-anchor="middle" fill="#111">*</text>
<text x="350.85" y="354.40" font-size="10" font-weight="bold" text-anchor="middle" fill="#888">*</text><text x="355.55" y="354.40" font-size="10" font-weight="bold" text-anchor="middle" fill="#888">*</text>
<text x="471.25" y="354.90" font-size="10" font-weight="bold" text-anchor="middle" fill="#a5a5a5">*</text><text x="475.95" y="354.90" font-size="10" font-weight="bold" text-anchor="middle" fill="#a5a5a5">*</text>
<text x="533.80" y="362.30" font-size="10" font-weight="bold" text-anchor="middle" fill="#111">*</text><text x="538.50" y="362.30" font-size="10" font-weight="bold" text-anchor="middle" fill="#111">*</text><text x="543.20" y="362.30" font-size="10" font-weight="bold" text-anchor="middle" fill="#111">*</text>
<circle cx="568.8" cy="330.0" r="1.6" fill="none" stroke="#10869f" stroke-width="1"/>
<text x="585.9" y="333.3" font-size="9.5" letter-spacing="0.1">Live and growing (-Ery)</text>
<circle cx="568.8" cy="342.3" r="1.95" fill="#10869f"/>
<text x="585.9" y="345.5" font-size="9.5" letter-spacing="0.1">Live and stable (+Ery)</text>
<circle cx="568.8" cy="354.3" r="1.95" fill="#e0392e"/>
<text x="585.9" y="357.4" font-size="9.5" letter-spacing="0.1">Dead (HK)</text>
<polygon points="567.0,365.8 570.6,365.8 568.8,369.0" fill="#ee9e21"/>
<text x="585.9" y="370.7" font-size="9.5" letter-spacing="0.1">Dead (UV)</text>
<circle cx="568.8" cy="379.7" r="1.95" fill="#b0b0b0"/>
<text x="585.9" y="382.6" font-size="9.5" letter-spacing="0.1">GF</text>
</svg>
</body></html>
